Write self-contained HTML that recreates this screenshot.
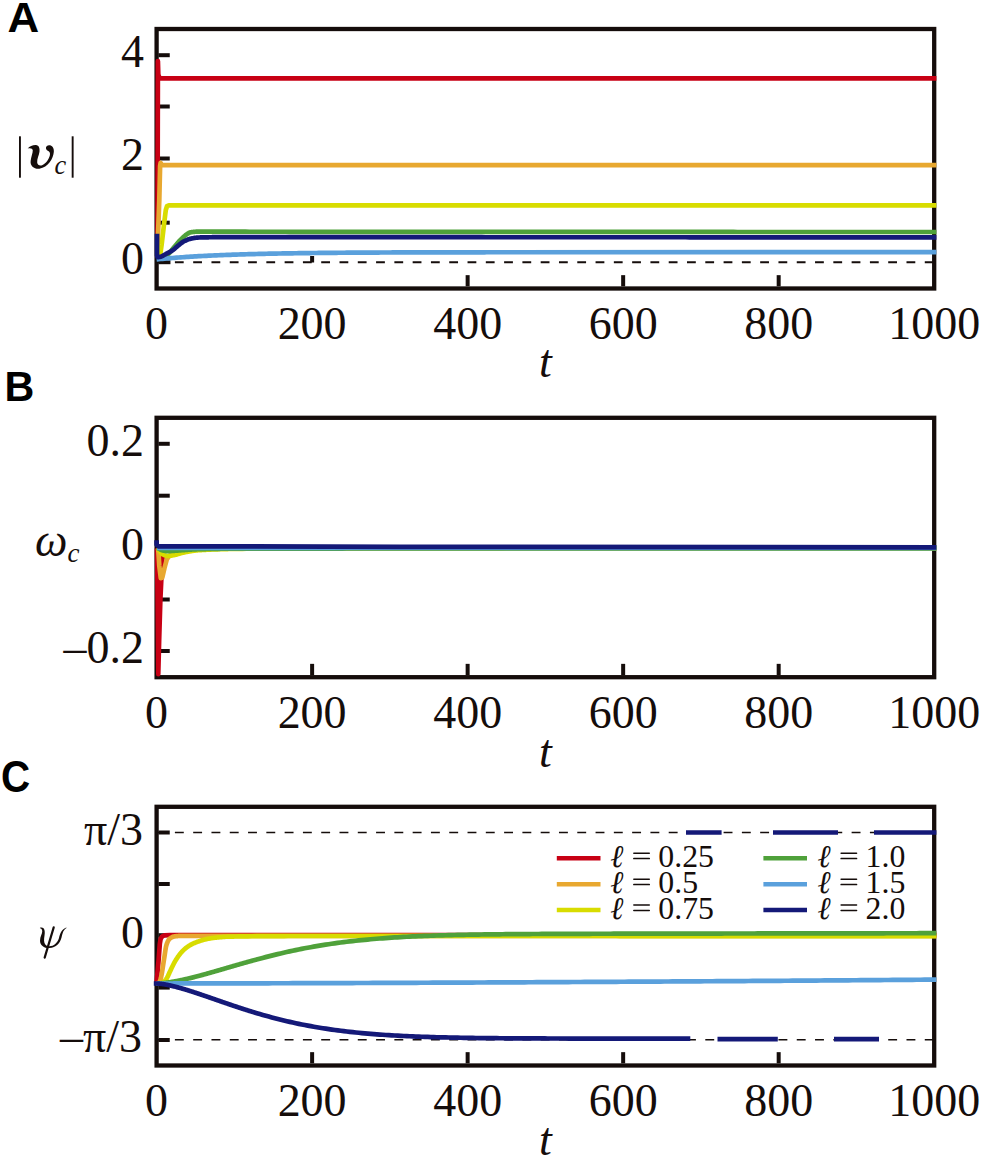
<!DOCTYPE html>
<html><head><meta charset="utf-8"><title>Figure</title>
<style>html,body{margin:0;padding:0;background:#fff;}body{width:982px;height:1158px;overflow:hidden;}svg{display:block;}</style>
</head><body>
<svg width="982" height="1158" viewBox="0 0 982 1158">
<rect width="982" height="1158" fill="#fff"/>
<line x1="156.6" y1="262.3" x2="934.2" y2="262.3" stroke="#150d0b" stroke-width="2.0" stroke-dasharray="8.8 9.49"/>
<rect x="156.6" y="29" width="777.6" height="259.5" fill="none" stroke="#150d0b" stroke-width="4.3"/>
<line x1="158.45" y1="55.2" x2="169.75" y2="55.2" stroke="#150d0b" stroke-width="4.0" />
<line x1="158.45" y1="106.5" x2="169.75" y2="106.5" stroke="#150d0b" stroke-width="4.0" />
<line x1="158.45" y1="158.5" x2="169.75" y2="158.5" stroke="#150d0b" stroke-width="4.0" />
<line x1="158.45" y1="222.7" x2="169.75" y2="222.7" stroke="#150d0b" stroke-width="4.0" />
<line x1="158.45" y1="262.2" x2="170.45" y2="262.2" stroke="#150d0b" stroke-width="4.0" />
<line x1="312.12" y1="262.5" x2="312.12" y2="256" stroke="#150d0b" stroke-width="4.0" />
<line x1="467.64" y1="286.35" x2="467.64" y2="275.15" stroke="#150d0b" stroke-width="4.0" />
<line x1="623.16" y1="286.35" x2="623.16" y2="275.15" stroke="#150d0b" stroke-width="4.0" />
<line x1="778.68" y1="286.35" x2="778.68" y2="275.15" stroke="#150d0b" stroke-width="4.0" />
<path d="M157.4 257 L157.7 150 L157.9 61 L158.3 74.5 L159.2 77.4 L161 78.3 L936.4 78.3" fill="none" stroke="#c80014" stroke-width="4.7" stroke-linejoin="round" stroke-linecap="butt" />
<path d="M157.2 257 L159.3 200 L160.1 166 L160.6 162.8 L161.6 164.6 L163 165.2 L936.4 165.2" fill="none" stroke="#e8a830" stroke-width="4.7" stroke-linejoin="round" stroke-linecap="butt" />
<path d="M159.8 257.5 L161.6 245 L164.3 222 L165.8 210 L167 206.2 L168.8 205.4 L936.4 205.4" fill="none" stroke="#d8dc00" stroke-width="4.7" stroke-linejoin="round" stroke-linecap="butt" />
<path d="M157.5 258.5 L158 258.49 L158.5 258.44 L159 258.38 L159.5 258.29 L160 258.18 L160.5 258.04 L161 257.89 L161.5 257.72 L162 257.53 L162.5 257.33 L163 257.12 L163.5 256.89 L164 256.66 L164.5 256.42 L165 256.17 L165.5 255.91 L166 255.66 L166.5 255.39 L167 255.08 L167.5 254.71 L168 254.29 L168.5 253.83 L169 253.33 L169.5 252.79 L170 252.23 L170.5 251.64 L171 251.04 L171.5 250.42 L172 249.8 L172.5 249.18 L173 248.56 L173.5 247.95 L174 247.36 L174.5 246.79 L175 246.2 L175.5 245.6 L176 244.99 L176.5 244.37 L177 243.75 L177.5 243.15 L178 242.56 L178.5 242 L179 241.46 L179.5 240.94 L180 240.42 L180.5 239.92 L181 239.43 L181.5 238.94 L182 238.46 L182.5 237.99 L183 237.52 L183.5 237.04 L184 236.56 L184.5 236.09 L185 235.63 L185.5 235.19 L186 234.79 L186.5 234.43 L187 234.11 L187.5 233.79 L188 233.47 L188.5 233.17 L189 232.9 L189.5 232.66 L190 232.47 L190.5 232.34 L191 232.25 L191.5 232.18 L192 232.11 L192.5 232.04 L193 231.98 L193.5 231.92 L194 231.86 L194.5 231.81 L195 231.77 L195.5 231.73 L196 231.7 L196.5 231.67 L197 231.64 L197.5 231.62 L198 231.61 L198.5 231.6 L199 231.6 L199.5 231.6 L200 231.6 L200.5 231.6 L201 231.6 L201.5 231.6 L202 231.6 L202.5 231.6 L203 231.6 L203.5 231.6 L204 231.61 L204.5 231.61 L205 231.61 L205.5 231.61 L206 231.61 L206.5 231.61 L207 231.61 L207.5 231.62 L208 231.62 L208.5 231.62 L209 231.62 L209.5 231.62 L210 231.63 L210.5 231.63 L211 231.63 L211.5 231.63 L212 231.63 L212.5 231.64 L213 231.64 L213.5 231.64 L214 231.64 L214.5 231.64 L215 231.65 L215.5 231.65 L216 231.65 L216.5 231.65 L217 231.66 L217.5 231.66 L218 231.66 L218.5 231.66 L219 231.66 L219.5 231.67 L220 231.67 L220.5 231.67 L221 231.67 L221.5 231.67 L222 231.68 L222.5 231.68 L223 231.68 L223.5 231.68 L224 231.68 L224.5 231.69 L225 231.69 L225.5 231.69 L226 231.69 L226.5 231.69 L227 231.69 L227.5 231.69 L228 231.7 L228.5 231.7 L229 231.7 L229.5 231.7 L230 231.7 L230.5 231.7 L231 231.7 L231.5 231.7 L232 231.7 L232.5 231.7 L233 231.7 L233.5 231.71 L234 231.71 L234.5 231.71 L235 231.71 L235.5 231.71 L236 231.71 L236.5 231.71 L237 231.71 L237.5 231.71 L241.5 231.72 L245.5 231.72 L249.5 231.73 L253.5 231.73 L257.5 231.74 L261.5 231.74 L265.5 231.75 L269.5 231.75 L273.5 231.76 L277.5 231.76 L281.5 231.77 L285.5 231.77 L289.5 231.78 L293.5 231.78 L297.5 231.78 L301.5 231.79 L305.5 231.79 L309.5 231.79 L313.5 231.8 L317.5 231.8 L321.5 231.8 L325.5 231.81 L329.5 231.81 L333.5 231.81 L337.5 231.82 L341.5 231.82 L345.5 231.82 L349.5 231.82 L353.5 231.83 L357.5 231.83 L361.5 231.83 L365.5 231.83 L369.5 231.83 L373.5 231.84 L377.5 231.84 L381.5 231.84 L385.5 231.84 L389.5 231.85 L393.5 231.85 L397.5 231.85 L401.5 231.85 L405.5 231.85 L409.5 231.85 L413.5 231.86 L417.5 231.86 L421.5 231.86 L425.5 231.86 L429.5 231.86 L433.5 231.87 L437.5 231.87 L441.5 231.87 L445.5 231.87 L449.5 231.87 L453.5 231.87 L457.5 231.88 L461.5 231.88 L465.5 231.88 L469.5 231.88 L473.5 231.88 L477.5 231.88 L481.5 231.89 L485.5 231.89 L489.5 231.89 L493.5 231.89 L497.5 231.89 L501.5 231.9 L505.5 231.9 L509.5 231.9 L513.5 231.9 L517.5 231.9 L521.5 231.9 L525.5 231.91 L529.5 231.91 L533.5 231.91 L537.5 231.91 L541.5 231.91 L545.5 231.91 L549.5 231.91 L553.5 231.92 L557.5 231.92 L561.5 231.92 L565.5 231.92 L569.5 231.92 L573.5 231.92 L577.5 231.93 L581.5 231.93 L585.5 231.93 L589.5 231.93 L593.5 231.93 L597.5 231.93 L601.5 231.93 L605.5 231.94 L609.5 231.94 L613.5 231.94 L617.5 231.94 L621.5 231.94 L625.5 231.94 L629.5 231.94 L633.5 231.95 L637.5 231.95 L641.5 231.95 L645.5 231.95 L649.5 231.95 L653.5 231.95 L657.5 231.95 L661.5 231.95 L665.5 231.96 L669.5 231.96 L673.5 231.96 L677.5 231.96 L681.5 231.96 L685.5 231.96 L689.5 231.96 L693.5 231.96 L697.5 231.96 L701.5 231.97 L705.5 231.97 L709.5 231.97 L713.5 231.97 L717.5 231.97 L721.5 231.97 L725.5 231.97 L729.5 231.97 L733.5 231.97 L737.5 231.98 L741.5 231.98 L745.5 231.98 L749.5 231.98 L753.5 231.98 L757.5 231.98 L761.5 231.98 L765.5 231.98 L769.5 231.98 L773.5 231.98 L777.5 231.98 L781.5 231.98 L785.5 231.99 L789.5 231.99 L793.5 231.99 L797.5 231.99 L801.5 231.99 L805.5 231.99 L809.5 231.99 L813.5 231.99 L817.5 231.99 L821.5 231.99 L825.5 231.99 L829.5 231.99 L833.5 231.99 L837.5 231.99 L841.5 231.99 L845.5 231.99 L849.5 231.99 L853.5 232 L857.5 232 L861.5 232 L865.5 232 L869.5 232 L873.5 232 L877.5 232 L881.5 232 L885.5 232 L889.5 232 L893.5 232 L897.5 232 L901.5 232 L905.5 232 L909.5 232 L913.5 232 L917.5 232 L921.5 232 L925.5 232 L929.5 232 L933.5 232 L936.4 232" fill="none" stroke="#4fa13a" stroke-width="4.7" stroke-linejoin="round" stroke-linecap="butt" />
<path d="M156.6 259.4 L158.6 259.2 L160.6 259.01 L162.6 258.82 L164.6 258.64 L166.6 258.47 L168.6 258.29 L170.6 258.13 L172.6 257.97 L174.6 257.81 L176.6 257.65 L178.6 257.5 L180.6 257.36 L182.6 257.22 L184.6 257.08 L186.6 256.95 L188.6 256.82 L190.6 256.69 L192.6 256.57 L194.6 256.45 L196.6 256.33 L198.6 256.22 L200.6 256.11 L202.6 256 L204.6 255.9 L206.6 255.8 L208.6 255.7 L210.6 255.6 L212.6 255.51 L214.6 255.42 L216.6 255.33 L218.6 255.24 L220.6 255.16 L222.6 255.08 L224.6 255 L226.6 254.92 L228.6 254.85 L230.6 254.78 L232.6 254.71 L234.6 254.64 L236.6 254.57 L238.6 254.51 L240.6 254.44 L242.6 254.38 L244.6 254.32 L246.6 254.26 L248.6 254.21 L250.6 254.15 L252.6 254.1 L254.6 254.05 L256.6 254 L258.6 253.95 L260.6 253.9 L262.6 253.85 L264.6 253.81 L266.6 253.76 L268.6 253.72 L270.6 253.68 L272.6 253.64 L274.6 253.6 L276.6 253.56 L278.6 253.52 L280.6 253.49 L282.6 253.45 L284.6 253.42 L286.6 253.38 L288.6 253.35 L290.6 253.32 L292.6 253.29 L294.6 253.26 L296.6 253.23 L298.6 253.2 L300.6 253.17 L302.6 253.15 L304.6 253.12 L306.6 253.1 L308.6 253.07 L310.6 253.05 L312.6 253.02 L314.6 253 L316.6 252.98 L318.6 252.96 L320.6 252.94 L322.6 252.92 L324.6 252.9 L326.6 252.88 L328.6 252.86 L330.6 252.84 L332.6 252.82 L334.6 252.81 L336.6 252.79 L338.6 252.77 L340.6 252.76 L342.6 252.74 L344.6 252.73 L346.6 252.71 L348.6 252.7 L350.6 252.69 L352.6 252.67 L354.6 252.66 L356.6 252.65 L358.6 252.64 L360.6 252.62 L362.6 252.61 L364.6 252.6 L366.6 252.59 L368.6 252.58 L370.6 252.57 L372.6 252.56 L374.6 252.55 L376.6 252.54 L378.6 252.53 L380.6 252.52 L382.6 252.51 L384.6 252.5 L386.6 252.5 L388.6 252.49 L390.6 252.48 L392.6 252.47 L394.6 252.46 L396.6 252.46 L398.6 252.45 L400.6 252.44 L402.6 252.44 L404.6 252.43 L406.6 252.42 L408.6 252.42 L410.6 252.41 L412.6 252.41 L414.6 252.4 L416.6 252.39 L418.6 252.39 L420.6 252.38 L422.6 252.38 L424.6 252.37 L426.6 252.37 L428.6 252.36 L430.6 252.36 L432.6 252.36 L434.6 252.35 L436.6 252.35 L438.6 252.34 L440.6 252.34 L442.6 252.34 L444.6 252.33 L446.6 252.33 L448.6 252.32 L450.6 252.32 L452.6 252.32 L454.6 252.31 L456.6 252.31 L458.6 252.31 L460.6 252.31 L462.6 252.3 L464.6 252.3 L466.6 252.3 L468.6 252.29 L470.6 252.29 L472.6 252.29 L474.6 252.29 L476.6 252.28 L478.6 252.28 L480.6 252.28 L482.6 252.28 L484.6 252.28 L486.6 252.27 L488.6 252.27 L490.6 252.27 L492.6 252.27 L494.6 252.27 L496.6 252.26 L498.6 252.26 L936.4 252.2" fill="none" stroke="#5aa0dc" stroke-width="4.7" stroke-linejoin="round" stroke-linecap="butt" />
<path d="M157 233.8 L157 255.5 L157.6 257.2 L158.1 257.16 L158.6 257.1 L159.1 257.03 L159.6 256.94 L160.1 256.83 L160.6 256.7 L161.1 256.52 L161.6 256.32 L162.1 256.1 L162.6 255.85 L163.1 255.59 L163.6 255.31 L164.1 255.03 L164.6 254.74 L165.1 254.46 L165.6 254.18 L166.1 253.9 L166.6 253.64 L167.1 253.39 L167.6 253.13 L168.1 252.86 L168.6 252.6 L169.1 252.33 L169.6 252.05 L170.1 251.77 L170.6 251.49 L171.1 251.19 L171.6 250.88 L172.1 250.56 L172.6 250.24 L173.1 249.89 L173.6 249.51 L174.1 249.11 L174.6 248.69 L175.1 248.26 L175.6 247.81 L176.1 247.36 L176.6 246.91 L177.1 246.47 L177.6 246.03 L178.1 245.62 L178.6 245.22 L179.1 244.83 L179.6 244.43 L180.1 244.03 L180.6 243.64 L181.1 243.25 L181.6 242.87 L182.1 242.5 L182.6 242.15 L183.1 241.83 L183.6 241.53 L184.1 241.25 L184.6 241 L185.1 240.76 L185.6 240.52 L186.1 240.29 L186.6 240.07 L187.1 239.86 L187.6 239.66 L188.1 239.47 L188.6 239.29 L189.1 239.13 L189.6 238.98 L190.1 238.84 L190.6 238.72 L191.1 238.61 L191.6 238.51 L192.1 238.4 L192.6 238.3 L193.1 238.21 L193.6 238.11 L194.1 238.02 L194.6 237.94 L195.1 237.86 L195.6 237.79 L196.1 237.72 L196.6 237.66 L197.1 237.61 L197.6 237.57 L198.1 237.54 L198.6 237.51 L199.1 237.49 L199.6 237.48 L200.1 237.47 L200.6 237.45 L201.1 237.44 L201.6 237.43 L202.1 237.42 L202.6 237.4 L203.1 237.39 L203.6 237.38 L204.1 237.37 L204.6 237.36 L205.1 237.35 L205.6 237.34 L206.1 237.33 L206.6 237.32 L207.1 237.31 L207.6 237.3 L208.1 237.29 L208.6 237.28 L209.1 237.27 L209.6 237.26 L210.1 237.25 L210.6 237.24 L211.1 237.24 L211.6 237.23 L212.1 237.22 L212.6 237.21 L213.1 237.21 L213.6 237.2 L214.1 237.19 L214.6 237.19 L215.1 237.18 L215.6 237.18 L216.1 237.17 L216.6 237.17 L217.1 237.16 L217.6 237.16 L218.1 237.15 L218.6 237.15 L219.1 237.14 L219.6 237.14 L220.1 237.14 L220.6 237.13 L221.1 237.13 L221.6 237.13 L222.1 237.12 L222.6 237.12 L223.1 237.12 L223.6 237.11 L224.1 237.11 L224.6 237.11 L225.1 237.11 L225.6 237.11 L226.1 237.11 L226.6 237.1 L227.1 237.1 L227.6 237.1 L228.1 237.1 L228.6 237.1 L229.1 237.1 L229.6 237.1 L230.1 237.1 L230.6 237.1 L231.1 237.1 L231.6 237.1 L232.1 237.1 L232.6 237.1 L233.1 237.1 L233.6 237.1 L234.1 237.1 L234.6 237.1 L235.1 237.1 L235.6 237.1 L236.1 237.1 L236.6 237.1 L237.1 237.1 L237.6 237.1 L241.6 237.1 L245.6 237.1 L249.6 237.1 L253.6 237.1 L257.6 237.11 L261.6 237.11 L265.6 237.11 L269.6 237.11 L273.6 237.11 L277.6 237.12 L281.6 237.12 L285.6 237.12 L289.6 237.12 L293.6 237.13 L297.6 237.13 L301.6 237.13 L305.6 237.14 L309.6 237.14 L313.6 237.14 L317.6 237.15 L321.6 237.15 L325.6 237.15 L329.6 237.16 L333.6 237.16 L337.6 237.16 L341.6 237.16 L345.6 237.17 L349.6 237.17 L353.6 237.17 L357.6 237.18 L361.6 237.18 L365.6 237.18 L369.6 237.19 L373.6 237.19 L377.6 237.19 L381.6 237.19 L385.6 237.19 L389.6 237.2 L393.6 237.2 L397.6 237.2 L401.6 237.2 L405.6 237.2 L409.6 237.2 L413.6 237.2 L417.6 237.21 L421.6 237.21 L425.6 237.21 L429.6 237.21 L433.6 237.21 L437.6 237.21 L441.6 237.21 L445.6 237.21 L449.6 237.22 L453.6 237.22 L457.6 237.22 L461.6 237.22 L465.6 237.22 L469.6 237.22 L473.6 237.22 L477.6 237.22 L481.6 237.22 L485.6 237.23 L489.6 237.23 L493.6 237.23 L497.6 237.23 L501.6 237.23 L505.6 237.23 L509.6 237.23 L513.6 237.23 L517.6 237.23 L521.6 237.24 L525.6 237.24 L529.6 237.24 L533.6 237.24 L537.6 237.24 L541.6 237.24 L545.6 237.24 L549.6 237.24 L553.6 237.24 L557.6 237.25 L561.6 237.25 L565.6 237.25 L569.6 237.25 L573.6 237.25 L577.6 237.25 L581.6 237.25 L585.6 237.25 L589.6 237.25 L593.6 237.25 L597.6 237.26 L601.6 237.26 L605.6 237.26 L609.6 237.26 L613.6 237.26 L617.6 237.26 L621.6 237.26 L625.6 237.26 L629.6 237.26 L633.6 237.26 L637.6 237.26 L641.6 237.27 L645.6 237.27 L649.6 237.27 L653.6 237.27 L657.6 237.27 L661.6 237.27 L665.6 237.27 L669.6 237.27 L673.6 237.27 L677.6 237.27 L681.6 237.27 L685.6 237.27 L689.6 237.28 L693.6 237.28 L697.6 237.28 L701.6 237.28 L705.6 237.28 L709.6 237.28 L713.6 237.28 L717.6 237.28 L721.6 237.28 L725.6 237.28 L729.6 237.28 L733.6 237.28 L737.6 237.28 L741.6 237.28 L745.6 237.28 L749.6 237.29 L753.6 237.29 L757.6 237.29 L761.6 237.29 L765.6 237.29 L769.6 237.29 L773.6 237.29 L777.6 237.29 L781.6 237.29 L785.6 237.29 L789.6 237.29 L793.6 237.29 L797.6 237.29 L801.6 237.29 L805.6 237.29 L809.6 237.29 L813.6 237.29 L817.6 237.29 L821.6 237.29 L825.6 237.29 L829.6 237.29 L833.6 237.3 L837.6 237.3 L841.6 237.3 L845.6 237.3 L849.6 237.3 L853.6 237.3 L857.6 237.3 L861.6 237.3 L865.6 237.3 L869.6 237.3 L873.6 237.3 L877.6 237.3 L881.6 237.3 L885.6 237.3 L889.6 237.3 L893.6 237.3 L897.6 237.3 L901.6 237.3 L905.6 237.3 L909.6 237.3 L913.6 237.3 L917.6 237.3 L921.6 237.3 L925.6 237.3 L929.6 237.3 L933.6 237.3 L936.4 237.3" fill="none" stroke="#141978" stroke-width="4.7" stroke-linejoin="round" stroke-linecap="butt" />
<text transform="translate(144 66.8) scale(1 1.03)" font-family="Liberation Serif" font-size="46" text-anchor="end" fill="#150d0b" >4</text>
<text transform="translate(144 170.3) scale(1 1.03)" font-family="Liberation Serif" font-size="46" text-anchor="end" fill="#150d0b" >2</text>
<text transform="translate(144 274) scale(1 1.03)" font-family="Liberation Serif" font-size="46" text-anchor="end" fill="#150d0b" >0</text>
<text transform="translate(156.6 339.3) scale(1 1.03)" font-family="Liberation Serif" font-size="46" text-anchor="middle" fill="#150d0b" >0</text>
<text transform="translate(312.12 339.3) scale(1 1.03)" font-family="Liberation Serif" font-size="46" text-anchor="middle" fill="#150d0b" >200</text>
<text transform="translate(467.64 339.3) scale(1 1.03)" font-family="Liberation Serif" font-size="46" text-anchor="middle" fill="#150d0b" >400</text>
<text transform="translate(623.16 339.3) scale(1 1.03)" font-family="Liberation Serif" font-size="46" text-anchor="middle" fill="#150d0b" >600</text>
<text transform="translate(778.68 339.3) scale(1 1.03)" font-family="Liberation Serif" font-size="46" text-anchor="middle" fill="#150d0b" >800</text>
<text transform="translate(934.2 339.3) scale(1 1.03)" font-family="Liberation Serif" font-size="46" text-anchor="middle" fill="#150d0b" >1000</text>
<text transform="translate(545.5 377.1) scale(1 1.03)" font-family="Liberation Serif" font-size="46" text-anchor="middle" fill="#150d0b" font-style="italic">t</text>
<rect x="156.6" y="417.8" width="777.6" height="259.4" fill="none" stroke="#150d0b" stroke-width="4.3"/>
<line x1="158.45" y1="443.8" x2="169.75" y2="443.8" stroke="#150d0b" stroke-width="4.0" />
<line x1="158.45" y1="495.7" x2="169.75" y2="495.7" stroke="#150d0b" stroke-width="4.0" />
<line x1="158.45" y1="599.5" x2="169.75" y2="599.5" stroke="#150d0b" stroke-width="4.0" />
<line x1="158.45" y1="651" x2="169.75" y2="651" stroke="#150d0b" stroke-width="4.0" />
<line x1="312.12" y1="675.05" x2="312.12" y2="663.85" stroke="#150d0b" stroke-width="4.0" />
<line x1="467.64" y1="675.05" x2="467.64" y2="663.85" stroke="#150d0b" stroke-width="4.0" />
<line x1="623.16" y1="675.05" x2="623.16" y2="663.85" stroke="#150d0b" stroke-width="4.0" />
<line x1="778.68" y1="675.05" x2="778.68" y2="663.85" stroke="#150d0b" stroke-width="4.0" />
<path d="M157 548.5 L157.6 600 L158.3 674.2 L159.2 640 L160.4 600 L162.3 560 L163.2 550 L164 548.3" fill="none" stroke="#c80014" stroke-width="4.6" stroke-linejoin="round" stroke-linecap="butt" stroke-linecap="round"/>
<path d="M158.2 548.5 L159.3 566 L160.8 578.2 L162.3 577.5 L164.5 568 L166.8 559.5 L169.5 555.5 L172 554.3 L172.5 554.2 L173 554.1 L173.5 554 L174 553.89 L174.5 553.78 L175 553.66 L175.5 553.53 L176 553.4 L176.5 553.26 L177 553.12 L177.5 552.97 L178 552.83 L178.5 552.68 L179 552.53 L179.5 552.38 L180 552.23 L180.5 552.09 L181 551.94 L181.5 551.8 L182 551.66 L182.5 551.53 L183 551.39 L183.5 551.25 L184 551.1 L184.5 550.95 L185 550.8 L185.5 550.65 L186 550.5 L186.5 550.35 L187 550.21 L187.5 550.07 L188 549.95 L188.5 549.83 L189 549.73 L189.5 549.64 L190 549.57 L190.5 549.52 L191 549.48 L191.5 549.44 L192 549.41 L192.5 549.38 L193 549.34 L193.5 549.31 L194 549.28 L194.5 549.25 L195 549.22 L195.5 549.19 L196 549.16 L196.5 549.13 L197 549.1 L197.5 549.07 L198 549.04 L198.5 549.02 L199 548.99 L199.5 548.96 L200 548.94 L200.5 548.91 L201 548.89 L201.5 548.86 L202 548.84 L202.5 548.82 L203 548.79 L203.5 548.77 L204 548.75 L204.5 548.73 L205 548.71 L205.5 548.69 L206 548.67 L206.5 548.65 L207 548.63 L207.5 548.61 L208 548.59 L208.5 548.58 L209 548.56 L209.5 548.54 L210 548.52 L210.5 548.51 L211 548.49 L211.5 548.48 L212 548.46 L212.5 548.45 L213 548.44 L213.5 548.42 L214 548.41 L214.5 548.4 L215 548.38 L215.5 548.37 L216 548.36 L216.5 548.35 L217 548.34 L217.5 548.33 L218 548.32 L218.5 548.31 L219 548.3 L219.5 548.29 L220 548.29 L220.5 548.28 L221 548.27 L221.5 548.26 L222 548.26 L222.5 548.25 L223 548.24 L223.5 548.24 L224 548.23 L224.5 548.23 L225 548.22 L225.5 548.22 L226 548.22 L226.5 548.21 L227 548.21 L227.5 548.21 L228 548.21 L228.5 548.2 L229 548.2 L229.5 548.2 L230 548.2 L230.5 548.2 L231 548.2 L231.5 548.2 L232 548.2 L232.5 548.2 L233 548.2 L233.5 548.19 L234 548.19 L234.5 548.19 L235 548.19 L235.5 548.19 L236 548.19 L236.5 548.19 L237 548.19 L237.5 548.19 L238 548.19 L238.5 548.19 L239 548.19 L239.5 548.19 L240 548.18 L240.5 548.18 L241 548.18 L241.5 548.18 L242 548.18 L242.5 548.18 L243 548.18 L243.5 548.18 L244 548.18 L244.5 548.18 L245 548.18 L245.5 548.18 L246 548.18 L246.5 548.17 L247 548.17 L247.5 548.17 L248 548.17 L248.5 548.17 L249 548.17 L249.5 548.17 L250 548.17 L250.5 548.17 L251 548.17 L251.5 548.17 L252 548.17 L256 548.16 L260 548.15 L264 548.15 L268 548.14 L272 548.14 L276 548.13 L280 548.13 L284 548.12 L288 548.12 L292 548.11 L296 548.11 L300 548.1 L304 548.09 L308 548.09 L312 548.08 L316 548.08 L320 548.07 L324 548.07 L328 548.07 L332 548.06 L336 548.06 L340 548.05 L344 548.05 L348 548.04 L352 548.04 L356 548.03 L360 548.03 L364 548.02 L368 548.02 L372 548.02 L376 548.01 L380 548.01 L384 548 L388 548 L392 548 L396 547.99 L400 547.99 L404 547.98 L408 547.98 L412 547.98 L416 547.97 L420 547.97 L424 547.97 L428 547.96 L432 547.96 L436 547.96 L440 547.95 L444 547.95 L448 547.95 L452 547.94 L456 547.94 L460 547.94 L464 547.93 L468 547.93 L472 547.93 L476 547.92 L480 547.92 L484 547.92 L488 547.92 L492 547.91 L496 547.91 L500 547.91 L504 547.91 L508 547.9 L512 547.9 L516 547.9 L520 547.9 L524 547.89 L528 547.89 L532 547.89 L536 547.89 L540 547.88 L544 547.88 L548 547.88 L552 547.88 L556 547.88 L560 547.87 L564 547.87 L568 547.87 L572 547.87 L576 547.87 L580 547.86 L584 547.86 L588 547.86 L592 547.86 L596 547.86 L600 547.85 L604 547.85 L608 547.85 L612 547.85 L616 547.85 L620 547.85 L624 547.84 L628 547.84 L632 547.84 L636 547.84 L640 547.84 L644 547.84 L648 547.84 L652 547.84 L656 547.83 L660 547.83 L664 547.83 L668 547.83 L672 547.83 L676 547.83 L680 547.83 L684 547.83 L688 547.83 L692 547.82 L696 547.82 L700 547.82 L704 547.82 L708 547.82 L712 547.82 L716 547.82 L720 547.82 L724 547.82 L728 547.82 L732 547.82 L736 547.81 L740 547.81 L744 547.81 L748 547.81 L752 547.81 L756 547.81 L760 547.81 L764 547.81 L768 547.81 L772 547.81 L776 547.81 L780 547.81 L784 547.81 L788 547.81 L792 547.81 L796 547.81 L800 547.81 L804 547.81 L808 547.8 L812 547.8 L816 547.8 L820 547.8 L824 547.8 L828 547.8 L832 547.8 L836 547.8 L840 547.8 L844 547.8 L848 547.8 L852 547.8 L856 547.8 L860 547.8 L864 547.8 L868 547.8 L872 547.8 L876 547.8 L880 547.8 L884 547.8 L888 547.8 L892 547.8 L896 547.8 L900 547.8 L904 547.8 L908 547.8 L912 547.8 L916 547.8 L920 547.8 L924 547.8 L928 547.8 L932 547.8 L936 547.8 L936.4 547.8" fill="none" stroke="#e8a830" stroke-width="4.7" stroke-linejoin="round" stroke-linecap="butt" />
<path d="M157 548 L158.5 549 L159 549.82 L159.5 550.61 L160 551.37 L160.5 552.08 L161 552.73 L161.5 553.3 L162 553.8 L162.5 554.2 L163 554.5 L163.5 554.74 L164 554.97 L164.5 555.18 L165 555.38 L165.5 555.55 L166 555.71 L166.5 555.83 L167 555.92 L167.5 555.98 L168 556 L168.5 555.99 L169 555.96 L169.5 555.91 L170 555.85 L170.5 555.78 L171 555.69 L171.5 555.6 L172 555.5 L172.5 555.4 L173 555.29 L173.5 555.18 L174 555.08 L174.5 554.98 L175 554.87 L175.5 554.76 L176 554.64 L176.5 554.5 L177 554.37 L177.5 554.23 L178 554.08 L178.5 553.93 L179 553.78 L179.5 553.64 L180 553.49 L180.5 553.35 L181 553.21 L181.5 553.07 L182 552.94 L182.5 552.82 L183 552.71 L183.5 552.6 L184 552.49 L184.5 552.38 L185 552.27 L185.5 552.16 L186 552.06 L186.5 551.95 L187 551.85 L187.5 551.75 L188 551.66 L188.5 551.57 L189 551.48 L189.5 551.39 L190 551.31 L190.5 551.23 L191 551.15 L191.5 551.08 L192 551 L192.5 550.93 L193 550.86 L193.5 550.79 L194 550.72 L194.5 550.65 L195 550.59 L195.5 550.52 L196 550.47 L196.5 550.41 L197 550.36 L197.5 550.31 L198 550.27 L198.5 550.23 L199 550.19 L199.5 550.16 L200 550.13 L200.5 550.1 L201 550.07 L201.5 550.04 L202 550.01 L202.5 549.98 L203 549.95 L203.5 549.92 L204 549.89 L204.5 549.86 L205 549.84 L205.5 549.81 L206 549.78 L206.5 549.76 L207 549.73 L207.5 549.71 L208 549.68 L208.5 549.66 L209 549.64 L209.5 549.61 L210 549.59 L210.5 549.57 L211 549.55 L211.5 549.52 L212 549.5 L212.5 549.48 L213 549.46 L213.5 549.44 L214 549.42 L214.5 549.4 L215 549.39 L215.5 549.37 L216 549.35 L216.5 549.33 L217 549.31 L217.5 549.3 L218 549.28 L218.5 549.27 L219 549.25 L219.5 549.24 L220 549.22 L220.5 549.21 L221 549.19 L221.5 549.18 L222 549.17 L222.5 549.15 L223 549.14 L223.5 549.13 L224 549.12 L224.5 549.1 L225 549.09 L225.5 549.08 L226 549.07 L226.5 549.06 L227 549.05 L227.5 549.04 L228 549.03 L228.5 549.02 L229 549.02 L229.5 549.01 L230 549 L230.5 548.99 L231 548.98 L231.5 548.98 L232 548.97 L232.5 548.96 L233 548.95 L233.5 548.95 L234 548.94 L234.5 548.93 L235 548.93 L235.5 548.92 L236 548.91 L236.5 548.9 L237 548.9 L237.5 548.89 L238 548.88 L238.5 548.88 L242.5 548.82 L246.5 548.77 L250.5 548.72 L254.5 548.68 L258.5 548.64 L262.5 548.6 L266.5 548.56 L270.5 548.53 L274.5 548.5 L278.5 548.47 L282.5 548.45 L286.5 548.43 L290.5 548.42 L294.5 548.41 L298.5 548.4 L302.5 548.4 L306.5 548.39 L310.5 548.39 L314.5 548.39 L318.5 548.39 L322.5 548.38 L326.5 548.38 L330.5 548.38 L334.5 548.37 L338.5 548.37 L342.5 548.37 L346.5 548.36 L350.5 548.36 L354.5 548.36 L358.5 548.36 L362.5 548.35 L366.5 548.35 L370.5 548.35 L374.5 548.35 L378.5 548.34 L382.5 548.34 L386.5 548.34 L390.5 548.34 L394.5 548.33 L398.5 548.33 L402.5 548.33 L406.5 548.33 L410.5 548.32 L414.5 548.32 L418.5 548.32 L422.5 548.32 L426.5 548.31 L430.5 548.31 L434.5 548.31 L438.5 548.31 L442.5 548.31 L446.5 548.3 L450.5 548.3 L454.5 548.3 L458.5 548.3 L462.5 548.29 L466.5 548.29 L470.5 548.29 L474.5 548.29 L478.5 548.29 L482.5 548.29 L486.5 548.28 L490.5 548.28 L494.5 548.28 L498.5 548.28 L502.5 548.28 L506.5 548.27 L510.5 548.27 L514.5 548.27 L518.5 548.27 L522.5 548.27 L526.5 548.27 L530.5 548.26 L534.5 548.26 L538.5 548.26 L542.5 548.26 L546.5 548.26 L550.5 548.26 L554.5 548.26 L558.5 548.25 L562.5 548.25 L566.5 548.25 L570.5 548.25 L574.5 548.25 L578.5 548.25 L582.5 548.25 L586.5 548.25 L590.5 548.24 L594.5 548.24 L598.5 548.24 L602.5 548.24 L606.5 548.24 L610.5 548.24 L614.5 548.24 L618.5 548.24 L622.5 548.23 L626.5 548.23 L630.5 548.23 L634.5 548.23 L638.5 548.23 L642.5 548.23 L646.5 548.23 L650.5 548.23 L654.5 548.23 L658.5 548.23 L662.5 548.23 L666.5 548.22 L670.5 548.22 L674.5 548.22 L678.5 548.22 L682.5 548.22 L686.5 548.22 L690.5 548.22 L694.5 548.22 L698.5 548.22 L702.5 548.22 L706.5 548.22 L710.5 548.22 L714.5 548.22 L718.5 548.21 L722.5 548.21 L726.5 548.21 L730.5 548.21 L734.5 548.21 L738.5 548.21 L742.5 548.21 L746.5 548.21 L750.5 548.21 L754.5 548.21 L758.5 548.21 L762.5 548.21 L766.5 548.21 L770.5 548.21 L774.5 548.21 L778.5 548.21 L782.5 548.21 L786.5 548.21 L790.5 548.21 L794.5 548.21 L798.5 548.21 L802.5 548.2 L806.5 548.2 L810.5 548.2 L814.5 548.2 L818.5 548.2 L822.5 548.2 L826.5 548.2 L830.5 548.2 L834.5 548.2 L838.5 548.2 L842.5 548.2 L846.5 548.2 L850.5 548.2 L854.5 548.2 L858.5 548.2 L862.5 548.2 L866.5 548.2 L870.5 548.2 L874.5 548.2 L878.5 548.2 L882.5 548.2 L886.5 548.2 L890.5 548.2 L894.5 548.2 L898.5 548.2 L902.5 548.2 L906.5 548.2 L910.5 548.2 L914.5 548.2 L918.5 548.2 L922.5 548.2 L926.5 548.2 L930.5 548.2 L934.5 548.2 L936.4 548.2" fill="none" stroke="#d8dc00" stroke-width="4.7" stroke-linejoin="round" stroke-linecap="butt" />
<path d="M157 548 L158.5 548.5 L159 548.79 L159.5 549.07 L160 549.34 L160.5 549.59 L161 549.82 L161.5 550.03 L162 550.22 L162.5 550.38 L163 550.5 L163.5 550.61 L164 550.71 L164.5 550.81 L165 550.9 L165.5 550.98 L166 551.06 L166.5 551.12 L167 551.16 L167.5 551.19 L168 551.2 L168.5 551.2 L169 551.18 L169.5 551.16 L170 551.14 L170.5 551.1 L171 551.07 L171.5 551.03 L172 550.99 L172.5 550.95 L173 550.91 L173.5 550.87 L174 550.83 L174.5 550.79 L175 550.76 L175.5 550.72 L176 550.69 L176.5 550.65 L177 550.62 L177.5 550.58 L178 550.54 L178.5 550.51 L179 550.47 L179.5 550.43 L180 550.39 L180.5 550.36 L181 550.32 L181.5 550.28 L182 550.24 L182.5 550.21 L183 550.17 L183.5 550.13 L184 550.09 L184.5 550.05 L185 550.02 L185.5 549.98 L186 549.94 L186.5 549.9 L187 549.86 L187.5 549.82 L188 549.78 L188.5 549.75 L189 549.71 L189.5 549.68 L190 549.64 L190.5 549.61 L191 549.58 L191.5 549.55 L192 549.52 L192.5 549.49 L193 549.47 L193.5 549.44 L194 549.41 L194.5 549.38 L195 549.36 L195.5 549.33 L196 549.31 L196.5 549.29 L197 549.26 L197.5 549.25 L198 549.23 L198.5 549.21 L199 549.2 L199.5 549.18 L200 549.17 L200.5 549.16 L201 549.14 L201.5 549.13 L202 549.12 L202.5 549.11 L203 549.09 L203.5 549.08 L204 549.07 L204.5 549.06 L205 549.05 L205.5 549.04 L206 549.02 L206.5 549.01 L207 549 L207.5 548.99 L208 548.98 L208.5 548.97 L209 548.96 L209.5 548.95 L210 548.94 L210.5 548.93 L211 548.92 L211.5 548.91 L212 548.9 L212.5 548.89 L213 548.88 L213.5 548.87 L214 548.86 L214.5 548.86 L215 548.85 L215.5 548.84 L216 548.83 L216.5 548.82 L217 548.82 L217.5 548.81 L218 548.8 L218.5 548.8 L219 548.79 L219.5 548.78 L220 548.78 L220.5 548.77 L221 548.76 L221.5 548.76 L222 548.75 L222.5 548.75 L223 548.74 L223.5 548.74 L224 548.73 L224.5 548.73 L225 548.73 L225.5 548.72 L226 548.72 L226.5 548.72 L227 548.71 L227.5 548.71 L228 548.71 L228.5 548.71 L229 548.7 L229.5 548.7 L230 548.7 L230.5 548.7 L231 548.7 L231.5 548.7 L232 548.69 L232.5 548.69 L233 548.69 L233.5 548.69 L234 548.69 L234.5 548.69 L235 548.69 L235.5 548.69 L236 548.68 L236.5 548.68 L237 548.68 L237.5 548.68 L238 548.68 L238.5 548.68 L242.5 548.67 L246.5 548.66 L250.5 548.65 L254.5 548.64 L258.5 548.63 L262.5 548.62 L266.5 548.62 L270.5 548.61 L274.5 548.6 L278.5 548.6 L282.5 548.59 L286.5 548.58 L290.5 548.58 L294.5 548.57 L298.5 548.57 L302.5 548.56 L306.5 548.56 L310.5 548.55 L314.5 548.55 L318.5 548.55 L322.5 548.54 L326.5 548.54 L330.5 548.54 L334.5 548.53 L338.5 548.53 L342.5 548.53 L346.5 548.52 L350.5 548.52 L354.5 548.52 L358.5 548.52 L362.5 548.52 L366.5 548.51 L370.5 548.51 L374.5 548.51 L378.5 548.51 L382.5 548.51 L386.5 548.51 L390.5 548.5 L394.5 548.5 L398.5 548.5 L402.5 548.5 L406.5 548.5 L410.5 548.5 L414.5 548.49 L418.5 548.49 L422.5 548.49 L426.5 548.49 L430.5 548.49 L434.5 548.49 L438.5 548.49 L442.5 548.48 L446.5 548.48 L450.5 548.48 L454.5 548.48 L458.5 548.48 L462.5 548.48 L466.5 548.48 L470.5 548.48 L474.5 548.47 L478.5 548.47 L482.5 548.47 L486.5 548.47 L490.5 548.47 L494.5 548.47 L498.5 548.47 L502.5 548.47 L506.5 548.46 L510.5 548.46 L514.5 548.46 L518.5 548.46 L522.5 548.46 L526.5 548.46 L530.5 548.46 L534.5 548.46 L538.5 548.46 L542.5 548.45 L546.5 548.45 L550.5 548.45 L554.5 548.45 L558.5 548.45 L562.5 548.45 L566.5 548.45 L570.5 548.45 L574.5 548.45 L578.5 548.44 L582.5 548.44 L586.5 548.44 L590.5 548.44 L594.5 548.44 L598.5 548.44 L602.5 548.44 L606.5 548.44 L610.5 548.44 L614.5 548.44 L618.5 548.44 L622.5 548.43 L626.5 548.43 L630.5 548.43 L634.5 548.43 L638.5 548.43 L642.5 548.43 L646.5 548.43 L650.5 548.43 L654.5 548.43 L658.5 548.43 L662.5 548.43 L666.5 548.43 L670.5 548.42 L674.5 548.42 L678.5 548.42 L682.5 548.42 L686.5 548.42 L690.5 548.42 L694.5 548.42 L698.5 548.42 L702.5 548.42 L706.5 548.42 L710.5 548.42 L714.5 548.42 L718.5 548.42 L722.5 548.42 L726.5 548.42 L730.5 548.41 L734.5 548.41 L738.5 548.41 L742.5 548.41 L746.5 548.41 L750.5 548.41 L754.5 548.41 L758.5 548.41 L762.5 548.41 L766.5 548.41 L770.5 548.41 L774.5 548.41 L778.5 548.41 L782.5 548.41 L786.5 548.41 L790.5 548.41 L794.5 548.41 L798.5 548.41 L802.5 548.41 L806.5 548.41 L810.5 548.41 L814.5 548.41 L818.5 548.4 L822.5 548.4 L826.5 548.4 L830.5 548.4 L834.5 548.4 L838.5 548.4 L842.5 548.4 L846.5 548.4 L850.5 548.4 L854.5 548.4 L858.5 548.4 L862.5 548.4 L866.5 548.4 L870.5 548.4 L874.5 548.4 L878.5 548.4 L882.5 548.4 L886.5 548.4 L890.5 548.4 L894.5 548.4 L898.5 548.4 L902.5 548.4 L906.5 548.4 L910.5 548.4 L914.5 548.4 L918.5 548.4 L922.5 548.4 L926.5 548.4 L930.5 548.4 L934.5 548.4 L936.4 548.4" fill="none" stroke="#4fa13a" stroke-width="4.7" stroke-linejoin="round" stroke-linecap="butt" />
<path d="M157 548 L157.5 548 L158 548 L158.5 548 L159 548 L159.5 548 L160 547.99 L160.5 547.99 L161 547.99 L161.5 547.99 L162 547.99 L162.5 547.99 L163 547.99 L163.5 547.99 L164 547.99 L164.5 547.99 L165 547.99 L165.5 547.99 L166 547.98 L166.5 547.98 L167 547.98 L167.5 547.98 L168 547.98 L168.5 547.98 L169 547.98 L169.5 547.98 L170 547.98 L170.5 547.98 L171 547.98 L171.5 547.97 L172 547.97 L172.5 547.97 L173 547.97 L173.5 547.97 L174 547.97 L174.5 547.97 L175 547.97 L175.5 547.97 L176 547.97 L176.5 547.97 L177 547.96 L177.5 547.96 L178 547.96 L178.5 547.96 L179 547.96 L179.5 547.96 L180 547.96 L180.5 547.96 L181 547.96 L181.5 547.96 L182 547.96 L182.5 547.95 L183 547.95 L183.5 547.95 L184 547.95 L184.5 547.95 L185 547.95 L185.5 547.95 L186 547.95 L186.5 547.95 L187 547.95 L187.5 547.95 L188 547.94 L188.5 547.94 L189 547.94 L189.5 547.94 L190 547.94 L190.5 547.94 L191 547.94 L191.5 547.94 L192 547.94 L192.5 547.94 L193 547.93 L193.5 547.93 L194 547.93 L194.5 547.93 L195 547.93 L195.5 547.93 L196 547.93 L196.5 547.93 L197 547.93 L197.5 547.93 L198 547.93 L198.5 547.92 L199 547.92 L199.5 547.92 L200 547.92 L200.5 547.92 L201 547.92 L201.5 547.92 L202 547.92 L202.5 547.92 L203 547.92 L203.5 547.92 L204 547.91 L204.5 547.91 L205 547.91 L205.5 547.91 L206 547.91 L206.5 547.91 L207 547.91 L207.5 547.91 L208 547.91 L208.5 547.91 L209 547.91 L209.5 547.9 L210 547.9 L210.5 547.9 L211 547.9 L211.5 547.9 L212 547.9 L212.5 547.9 L213 547.9 L213.5 547.9 L214 547.9 L214.5 547.89 L215 547.89 L215.5 547.89 L216 547.89 L216.5 547.89 L217 547.89 L217.5 547.89 L218 547.89 L218.5 547.89 L219 547.89 L219.5 547.89 L220 547.89 L220.5 547.88 L221 547.88 L221.5 547.88 L222 547.88 L222.5 547.88 L223 547.88 L223.5 547.88 L224 547.88 L224.5 547.88 L225 547.88 L225.5 547.88 L226 547.87 L226.5 547.87 L227 547.87 L227.5 547.87 L228 547.87 L228.5 547.87 L229 547.87 L229.5 547.87 L230 547.87 L230.5 547.87 L231 547.87 L231.5 547.87 L232 547.86 L232.5 547.86 L233 547.86 L233.5 547.86 L234 547.86 L234.5 547.86 L235 547.86 L235.5 547.86 L236 547.86 L236.5 547.86 L237 547.86 L241 547.85 L245 547.84 L249 547.84 L253 547.83 L257 547.83 L261 547.82 L265 547.82 L269 547.82 L273 547.81 L277 547.81 L281 547.81 L285 547.8 L289 547.8 L293 547.8 L297 547.8 L301 547.8 L305 547.8 L309 547.8 L313 547.8 L317 547.8 L321 547.8 L325 547.8 L329 547.8 L333 547.8 L337 547.8 L341 547.8 L345 547.8 L349 547.8 L353 547.8 L357 547.8 L361 547.8 L365 547.8 L369 547.8 L373 547.8 L377 547.8 L381 547.8 L385 547.8 L389 547.8 L393 547.8 L397 547.8 L401 547.8 L405 547.8 L409 547.8 L413 547.8 L417 547.8 L421 547.8 L425 547.8 L429 547.8 L433 547.8 L437 547.8 L441 547.8 L445 547.8 L449 547.8 L453 547.8 L457 547.8 L461 547.8 L465 547.8 L469 547.8 L473 547.8 L477 547.8 L481 547.8 L485 547.8 L489 547.8 L493 547.8 L497 547.8 L501 547.8 L505 547.8 L509 547.8 L513 547.8 L517 547.8 L521 547.8 L525 547.8 L529 547.8 L533 547.8 L537 547.8 L541 547.8 L545 547.8 L549 547.8 L553 547.8 L557 547.8 L561 547.8 L565 547.8 L569 547.8 L573 547.8 L577 547.8 L581 547.8 L585 547.8 L589 547.8 L593 547.8 L597 547.8 L601 547.8 L605 547.8 L609 547.8 L613 547.8 L617 547.8 L621 547.8 L625 547.8 L629 547.8 L633 547.8 L637 547.8 L641 547.8 L645 547.8 L649 547.8 L653 547.8 L657 547.8 L661 547.8 L665 547.8 L669 547.8 L673 547.8 L677 547.8 L681 547.8 L685 547.8 L689 547.8 L693 547.8 L697 547.8 L701 547.8 L705 547.8 L709 547.8 L713 547.8 L717 547.8 L721 547.8 L725 547.8 L729 547.8 L733 547.8 L737 547.8 L741 547.8 L745 547.8 L749 547.8 L753 547.8 L757 547.8 L761 547.8 L765 547.8 L769 547.8 L773 547.8 L777 547.8 L781 547.8 L785 547.8 L789 547.8 L793 547.8 L797 547.8 L801 547.8 L805 547.8 L809 547.8 L813 547.8 L817 547.8 L821 547.8 L825 547.8 L829 547.8 L833 547.8 L837 547.8 L841 547.8 L845 547.8 L849 547.8 L853 547.8 L857 547.8 L861 547.8 L865 547.8 L869 547.8 L873 547.8 L877 547.8 L881 547.8 L885 547.8 L889 547.8 L893 547.8 L897 547.8 L901 547.8 L905 547.8 L909 547.8 L913 547.8 L917 547.8 L921 547.8 L925 547.8 L929 547.8 L933 547.8 L936.4 547.8" fill="none" stroke="#5aa0dc" stroke-width="4.7" stroke-linejoin="round" stroke-linecap="butt" />
<path d="M156.6 540.2 L156.6 544.6 L158.5 546.4 L230 546.4 L400 546.8 L936.4 547.4" fill="none" stroke="#141978" stroke-width="4.7" stroke-linejoin="round" stroke-linecap="butt" />
<text transform="translate(144 455.6) scale(1 1.03)" font-family="Liberation Serif" font-size="46" text-anchor="end" fill="#150d0b" >0.2</text>
<text transform="translate(144 559.5) scale(1 1.03)" font-family="Liberation Serif" font-size="46" text-anchor="end" fill="#150d0b" >0</text>
<text transform="translate(144 663.3) scale(1 1.03)" font-family="Liberation Serif" font-size="46" text-anchor="end" fill="#150d0b" >–0.2</text>
<text transform="translate(156.6 728) scale(1 1.03)" font-family="Liberation Serif" font-size="46" text-anchor="middle" fill="#150d0b" >0</text>
<text transform="translate(312.12 728) scale(1 1.03)" font-family="Liberation Serif" font-size="46" text-anchor="middle" fill="#150d0b" >200</text>
<text transform="translate(467.64 728) scale(1 1.03)" font-family="Liberation Serif" font-size="46" text-anchor="middle" fill="#150d0b" >400</text>
<text transform="translate(623.16 728) scale(1 1.03)" font-family="Liberation Serif" font-size="46" text-anchor="middle" fill="#150d0b" >600</text>
<text transform="translate(778.68 728) scale(1 1.03)" font-family="Liberation Serif" font-size="46" text-anchor="middle" fill="#150d0b" >800</text>
<text transform="translate(934.2 728) scale(1 1.03)" font-family="Liberation Serif" font-size="46" text-anchor="middle" fill="#150d0b" >1000</text>
<text transform="translate(545.5 766.5) scale(1 1.03)" font-family="Liberation Serif" font-size="46" text-anchor="middle" fill="#150d0b" font-style="italic">t</text>
<line x1="156.6" y1="832.5" x2="934.2" y2="832.5" stroke="#150d0b" stroke-width="1.6" stroke-dasharray="8.9 9.39"/>
<line x1="156.6" y1="1039.7" x2="934.2" y2="1039.7" stroke="#150d0b" stroke-width="1.6" stroke-dasharray="8.9 9.39"/>
<rect x="156.6" y="806.8" width="777.6" height="258.7" fill="none" stroke="#150d0b" stroke-width="4.3"/>
<line x1="158.45" y1="832.5" x2="169.75" y2="832.5" stroke="#150d0b" stroke-width="4.0" />
<line x1="158.45" y1="884" x2="169.75" y2="884" stroke="#150d0b" stroke-width="4.0" />
<line x1="158.45" y1="935.2" x2="169.75" y2="935.2" stroke="#150d0b" stroke-width="4.0" />
<line x1="158.45" y1="987.6" x2="169.75" y2="987.6" stroke="#150d0b" stroke-width="4.0" />
<line x1="158.45" y1="1040" x2="169.75" y2="1040" stroke="#150d0b" stroke-width="4.0" />
<line x1="312.12" y1="1063.35" x2="312.12" y2="1052.15" stroke="#150d0b" stroke-width="4.0" />
<line x1="467.64" y1="1063.35" x2="467.64" y2="1052.15" stroke="#150d0b" stroke-width="4.0" />
<line x1="623.16" y1="1063.35" x2="623.16" y2="1052.15" stroke="#150d0b" stroke-width="4.0" />
<line x1="778.68" y1="1063.35" x2="778.68" y2="1052.15" stroke="#150d0b" stroke-width="4.0" />
<path d="M156.5 983.5 L157.3 975 L158.6 960 L159.8 944 L160.6 939 L162.2 936.3 L164.5 935.3 L170 935 L936.4 935" fill="none" stroke="#c80014" stroke-width="4.7" stroke-linejoin="round" stroke-linecap="butt" />
<path d="M156.5 983.5 L158.5 983.3 L159 982.8 L159.5 981.96 L160 980.88 L160.5 979.54 L161 977.61 L161.5 975.15 L162 972.29 L162.5 969.16 L163 965.88 L163.5 962.59 L164 959.41 L164.5 956.37 L165 952.93 L165.5 949.48 L166 946.6 L166.5 944.79 L167 943.37 L167.5 942.12 L168 941.05 L168.5 940.15 L169 939.43 L169.5 938.89 L170 938.48 L170.5 938.1 L171 937.76 L171.5 937.46 L172 937.18 L172.5 936.95 L173 936.75 L173.5 936.59 L174 936.47 L174.5 936.39 L175 936.32 L175.5 936.26 L176 936.2 L176.5 936.14 L177 936.09 L177.5 936.04 L178 936 L178.5 935.96 L179 935.92 L179.5 935.89 L180 935.87 L180.5 935.84 L181 935.83 L181.5 935.81 L182 935.8 L182.5 935.8 L183 935.8 L183.5 935.8 L184 935.8 L184.5 935.8 L185 935.8 L185.5 935.8 L186 935.8 L186.5 935.8 L187 935.8 L187.5 935.8 L188 935.8 L188.5 935.8 L189 935.8 L189.5 935.8 L190 935.8 L190.5 935.8 L191 935.8 L191.5 935.8 L192 935.8 L192.5 935.8 L193 935.8 L193.5 935.8 L194 935.8 L194.5 935.8 L195 935.8 L195.5 935.8 L196 935.8 L196.5 935.8 L197 935.8 L197.5 935.8 L198 935.8 L198.5 935.8 L199 935.8 L199.5 935.8 L200 935.8 L200.5 935.8 L201 935.8 L201.5 935.8 L202 935.8 L202.5 935.8 L203 935.8 L203.5 935.8 L204 935.8 L204.5 935.8 L205 935.8 L205.5 935.8 L206 935.8 L206.5 935.8 L207 935.8 L207.5 935.8 L208 935.8 L208.5 935.8 L209 935.8 L209.5 935.8 L210 935.8 L210.5 935.8 L211 935.8 L211.5 935.8 L212 935.8 L212.5 935.8 L213 935.8 L213.5 935.8 L214 935.8 L214.5 935.8 L215 935.8 L215.5 935.8 L216 935.8 L216.5 935.8 L217 935.8 L217.5 935.8 L218 935.8 L218.5 935.8 L219 935.8 L219.5 935.8 L220 935.8 L220.5 935.8 L221 935.8 L221.5 935.8 L222 935.8 L222.5 935.8 L223 935.8 L223.5 935.8 L224 935.8 L224.5 935.8 L225 935.8 L225.5 935.8 L226 935.8 L226.5 935.8 L227 935.8 L227.5 935.8 L228 935.8 L228.5 935.8 L229 935.8 L229.5 935.8 L230 935.8 L230.5 935.8 L231 935.8 L231.5 935.8 L232 935.8 L232.5 935.8 L233 935.8 L233.5 935.8 L234 935.8 L234.5 935.8 L235 935.8 L235.5 935.8 L236 935.8 L236.5 935.8 L237 935.8 L237.5 935.8 L238 935.8 L238.5 935.8 L242.5 935.8 L246.5 935.8 L250.5 935.8 L254.5 935.8 L258.5 935.8 L262.5 935.8 L266.5 935.8 L270.5 935.8 L274.5 935.8 L278.5 935.8 L282.5 935.8 L286.5 935.8 L290.5 935.8 L294.5 935.8 L298.5 935.8 L302.5 935.8 L306.5 935.8 L310.5 935.8 L314.5 935.8 L318.5 935.8 L322.5 935.8 L326.5 935.8 L330.5 935.8 L334.5 935.8 L338.5 935.8 L342.5 935.8 L346.5 935.8 L350.5 935.8 L354.5 935.8 L358.5 935.8 L362.5 935.8 L366.5 935.8 L370.5 935.8 L374.5 935.8 L378.5 935.8 L382.5 935.8 L386.5 935.8 L390.5 935.8 L394.5 935.8 L398.5 935.8 L402.5 935.8 L406.5 935.8 L410.5 935.8 L414.5 935.8 L418.5 935.8 L422.5 935.8 L426.5 935.8 L430.5 935.8 L434.5 935.8 L438.5 935.8 L442.5 935.8 L446.5 935.8 L450.5 935.8 L454.5 935.8 L458.5 935.8 L462.5 935.8 L466.5 935.8 L470.5 935.8 L474.5 935.8 L478.5 935.8 L482.5 935.8 L486.5 935.8 L490.5 935.8 L494.5 935.8 L498.5 935.8 L502.5 935.8 L506.5 935.8 L510.5 935.8 L514.5 935.8 L518.5 935.8 L522.5 935.8 L526.5 935.8 L530.5 935.8 L534.5 935.8 L538.5 935.8 L542.5 935.8 L546.5 935.8 L550.5 935.8 L554.5 935.8 L558.5 935.8 L562.5 935.8 L566.5 935.8 L570.5 935.8 L574.5 935.8 L578.5 935.8 L582.5 935.8 L586.5 935.8 L590.5 935.8 L594.5 935.8 L598.5 935.8 L602.5 935.8 L606.5 935.8 L610.5 935.8 L614.5 935.8 L618.5 935.8 L622.5 935.8 L626.5 935.8 L630.5 935.8 L634.5 935.8 L638.5 935.8 L642.5 935.8 L646.5 935.8 L650.5 935.8 L654.5 935.8 L658.5 935.8 L662.5 935.8 L666.5 935.8 L670.5 935.8 L674.5 935.8 L678.5 935.8 L682.5 935.8 L686.5 935.8 L690.5 935.8 L694.5 935.8 L698.5 935.8 L702.5 935.8 L706.5 935.8 L710.5 935.8 L714.5 935.8 L718.5 935.8 L722.5 935.8 L726.5 935.8 L730.5 935.8 L734.5 935.8 L738.5 935.8 L742.5 935.8 L746.5 935.8 L750.5 935.8 L754.5 935.8 L758.5 935.8 L762.5 935.8 L766.5 935.8 L770.5 935.8 L774.5 935.8 L778.5 935.8 L782.5 935.8 L786.5 935.8 L790.5 935.8 L794.5 935.8 L798.5 935.8 L802.5 935.8 L806.5 935.8 L810.5 935.8 L814.5 935.8 L818.5 935.8 L822.5 935.8 L826.5 935.8 L830.5 935.8 L834.5 935.8 L838.5 935.8 L842.5 935.8 L846.5 935.8 L850.5 935.8 L854.5 935.8 L858.5 935.8 L862.5 935.8 L866.5 935.8 L870.5 935.8 L874.5 935.8 L878.5 935.8 L882.5 935.8 L886.5 935.8 L890.5 935.8 L894.5 935.8 L898.5 935.8 L902.5 935.8 L906.5 935.8 L910.5 935.8 L914.5 935.8 L918.5 935.8 L922.5 935.8 L926.5 935.8 L930.5 935.8 L934.5 935.8 L936.4 935.8" fill="none" stroke="#e8a830" stroke-width="4.7" stroke-linejoin="round" stroke-linecap="butt" />
<path d="M156.5 983.5 L160 983.3 L160.5 983.25 L161 983.14 L161.5 982.98 L162 982.78 L162.5 982.55 L163 982.3 L163.5 982 L164 981.61 L164.5 981.15 L165 980.61 L165.5 980.02 L166 979.39 L166.5 978.72 L167 977.91 L167.5 976.97 L168 975.93 L168.5 974.83 L169 973.69 L169.5 972.55 L170 971.44 L170.5 970.4 L171 969.36 L171.5 968.31 L172 967.26 L172.5 966.21 L173 965.19 L173.5 964.19 L174 963.23 L174.5 962.32 L175 961.45 L175.5 960.6 L176 959.77 L176.5 958.97 L177 958.19 L177.5 957.43 L178 956.7 L178.5 956 L179 955.32 L179.5 954.65 L180 954.01 L180.5 953.38 L181 952.77 L181.5 952.19 L182 951.63 L182.5 951.1 L183 950.6 L183.5 950.11 L184 949.64 L184.5 949.19 L185 948.76 L185.5 948.34 L186 947.94 L186.5 947.55 L187 947.18 L187.5 946.81 L188 946.46 L188.5 946.12 L189 945.8 L189.5 945.48 L190 945.19 L190.5 944.91 L191 944.64 L191.5 944.39 L192 944.14 L192.5 943.89 L193 943.66 L193.5 943.43 L194 943.2 L194.5 942.99 L195 942.77 L195.5 942.57 L196 942.37 L196.5 942.17 L197 941.98 L197.5 941.79 L198 941.61 L198.5 941.44 L199 941.27 L199.5 941.1 L200 940.93 L200.5 940.77 L201 940.61 L201.5 940.45 L202 940.29 L202.5 940.14 L203 940 L203.5 939.85 L204 939.72 L204.5 939.58 L205 939.46 L205.5 939.33 L206 939.22 L206.5 939.1 L207 939 L207.5 938.9 L208 938.8 L208.5 938.71 L209 938.61 L209.5 938.52 L210 938.43 L210.5 938.35 L211 938.26 L211.5 938.19 L212 938.11 L212.5 938.04 L213 937.97 L213.5 937.9 L214 937.84 L214.5 937.78 L215 937.72 L215.5 937.67 L216 937.62 L216.5 937.56 L217 937.51 L217.5 937.46 L218 937.41 L218.5 937.36 L219 937.31 L219.5 937.26 L220 937.22 L220.5 937.17 L221 937.13 L221.5 937.08 L222 937.04 L222.5 937 L223 936.96 L223.5 936.92 L224 936.88 L224.5 936.85 L225 936.82 L225.5 936.78 L226 936.75 L226.5 936.73 L227 936.7 L227.5 936.68 L228 936.66 L228.5 936.64 L229 936.62 L229.5 936.61 L230 936.6 L230.5 936.59 L231 936.58 L231.5 936.57 L232 936.56 L232.5 936.55 L233 936.55 L233.5 936.54 L234 936.53 L234.5 936.52 L235 936.51 L235.5 936.5 L236 936.49 L236.5 936.49 L237 936.48 L237.5 936.47 L238 936.46 L238.5 936.45 L239 936.45 L239.5 936.44 L240 936.43 L244 936.37 L248 936.32 L252 936.27 L256 936.22 L260 936.18 L264 936.15 L268 936.11 L272 936.09 L276 936.06 L280 936.04 L284 936.03 L288 936.02 L292 936.01 L296 936 L300 936 L304 936 L308 936 L312 936 L316 936 L320 936 L324 936 L328 936 L332 936 L336 936 L340 936 L344 936 L348 936 L352 936 L356 936 L360 936 L364 936 L368 936 L372 936 L376 936 L380 936 L384 936 L388 936 L392 936 L396 936 L400 936 L404 936 L408 936 L412 936 L416 936 L420 936 L424 936 L428 936 L432 936 L436 936 L440 936 L444 936 L448 936 L452 936 L456 936 L460 936 L464 936 L468 936 L472 936 L476 936 L480 936 L484 936 L488 936.01 L492 936.01 L496 936.01 L500 936.01 L504 936.01 L508 936.01 L512 936.01 L516 936.01 L520 936.01 L524 936.01 L528 936.01 L532 936.01 L536 936.01 L540 936.01 L544 936.01 L548 936.01 L552 936.01 L556 936.01 L560 936.01 L564 936.01 L568 936.01 L572 936.02 L576 936.02 L580 936.02 L584 936.02 L588 936.02 L592 936.02 L596 936.02 L600 936.02 L604 936.02 L608 936.02 L612 936.02 L616 936.02 L620 936.03 L624 936.03 L628 936.03 L632 936.03 L636 936.03 L640 936.03 L644 936.03 L648 936.03 L652 936.03 L656 936.04 L660 936.04 L664 936.04 L668 936.04 L672 936.04 L676 936.04 L680 936.04 L684 936.04 L688 936.05 L692 936.05 L696 936.05 L700 936.05 L704 936.05 L708 936.05 L712 936.05 L716 936.06 L720 936.06 L724 936.06 L728 936.06 L732 936.06 L736 936.06 L740 936.07 L744 936.07 L748 936.07 L752 936.07 L756 936.07 L760 936.08 L764 936.08 L768 936.08 L772 936.08 L776 936.08 L780 936.09 L784 936.09 L788 936.09 L792 936.09 L796 936.09 L800 936.1 L804 936.1 L808 936.1 L812 936.1 L816 936.11 L820 936.11 L824 936.11 L828 936.11 L832 936.12 L836 936.12 L840 936.12 L844 936.12 L848 936.13 L852 936.13 L856 936.13 L860 936.14 L864 936.14 L868 936.14 L872 936.15 L876 936.15 L880 936.15 L884 936.15 L888 936.16 L892 936.16 L896 936.16 L900 936.17 L904 936.17 L908 936.17 L912 936.18 L916 936.18 L920 936.18 L924 936.19 L928 936.19 L932 936.2 L936 936.2 L936.4 936.2" fill="none" stroke="#d8dc00" stroke-width="4.7" stroke-linejoin="round" stroke-linecap="butt" />
<path d="M156.6 983.5 L157.1 983.49 L157.6 983.48 L158.1 983.46 L158.6 983.43 L159.1 983.41 L159.6 983.38 L160.1 983.34 L160.6 983.3 L161.1 983.27 L161.6 983.22 L162.1 983.18 L162.6 983.13 L163.1 983.08 L163.6 983.03 L164.1 982.97 L164.6 982.92 L165.1 982.86 L165.6 982.8 L166.1 982.74 L166.6 982.67 L167.1 982.61 L167.6 982.54 L168.1 982.47 L168.6 982.4 L169.1 982.32 L169.6 982.25 L170.1 982.17 L170.6 982.09 L171.1 982.01 L171.6 981.93 L172.1 981.85 L172.6 981.77 L173.1 981.68 L173.6 981.59 L174.1 981.51 L174.6 981.42 L175.1 981.33 L175.6 981.23 L176.1 981.14 L176.6 981.05 L177.1 980.95 L177.6 980.85 L178.1 980.75 L178.6 980.66 L179.1 980.55 L179.6 980.45 L180.1 980.35 L180.6 980.25 L181.1 980.14 L181.6 980.04 L182.1 979.93 L182.6 979.82 L183.1 979.71 L183.6 979.6 L184.1 979.49 L184.6 979.38 L185.1 979.27 L185.6 979.15 L186.1 979.04 L186.6 978.92 L187.1 978.81 L187.6 978.69 L188.1 978.57 L188.6 978.45 L189.1 978.33 L189.6 978.21 L190.1 978.09 L190.6 977.97 L191.1 977.85 L191.6 977.72 L192.1 977.6 L192.6 977.47 L193.1 977.35 L193.6 977.22 L194.1 977.1 L194.6 976.97 L195.1 976.84 L195.6 976.71 L196.1 976.58 L196.6 976.45 L197.1 976.32 L197.6 976.19 L198.1 976.06 L198.6 975.93 L199.1 975.8 L199.6 975.66 L200.1 975.53 L200.6 975.4 L201.1 975.26 L201.6 975.13 L202.1 974.99 L202.6 974.86 L203.1 974.72 L203.6 974.58 L204.1 974.45 L204.6 974.31 L205.1 974.17 L205.6 974.03 L206.1 973.89 L206.6 973.76 L207.1 973.62 L207.6 973.48 L208.1 973.34 L208.6 973.2 L209.1 973.06 L209.6 972.91 L210.1 972.77 L210.6 972.63 L211.1 972.49 L211.6 972.35 L212.1 972.21 L212.6 972.06 L213.1 971.92 L213.6 971.78 L214.1 971.64 L214.6 971.49 L215.1 971.35 L215.6 971.21 L216.1 971.06 L216.6 970.92 L217.1 970.77 L217.6 970.63 L218.1 970.48 L218.6 970.34 L219.1 970.2 L219.6 970.05 L220.1 969.91 L220.6 969.76 L221.1 969.62 L221.6 969.47 L222.1 969.33 L222.6 969.18 L223.1 969.03 L223.6 968.89 L224.1 968.74 L224.6 968.6 L225.1 968.45 L225.6 968.31 L226.1 968.16 L226.6 968.02 L227.1 967.87 L227.6 967.73 L228.1 967.58 L228.6 967.43 L229.1 967.29 L229.6 967.14 L230.1 967 L230.6 966.85 L231.1 966.71 L231.6 966.56 L232.1 966.42 L232.6 966.27 L233.1 966.13 L233.6 965.98 L234.1 965.84 L234.6 965.69 L235.1 965.55 L235.6 965.4 L236.1 965.26 L236.6 965.11 L237.1 964.97 L237.6 964.83 L238.1 964.68 L238.6 964.54 L239.1 964.4 L239.6 964.25 L240.1 964.11 L240.6 963.97 L241.1 963.82 L241.6 963.68 L242.1 963.54 L242.6 963.39 L243.1 963.25 L243.6 963.11 L244.1 962.97 L244.6 962.83 L245.1 962.69 L245.6 962.54 L246.1 962.4 L246.6 962.26 L247.1 962.12 L247.6 961.98 L248.1 961.84 L248.6 961.7 L249.1 961.56 L249.6 961.42 L250.1 961.29 L250.6 961.15 L251.1 961.01 L251.6 960.87 L252.1 960.73 L252.6 960.59 L253.1 960.46 L253.6 960.32 L254.1 960.18 L254.6 960.05 L255.1 959.91 L255.6 959.78 L256.1 959.64 L256.6 959.5 L256.6 959.5 L259.6 958.7 L262.6 957.91 L265.6 957.13 L268.6 956.36 L271.6 955.61 L274.6 954.87 L277.6 954.14 L280.6 953.43 L283.6 952.74 L286.6 952.06 L289.6 951.39 L292.6 950.75 L295.6 950.11 L298.6 949.5 L301.6 948.9 L304.6 948.31 L307.6 947.75 L310.6 947.2 L313.6 946.66 L316.6 946.14 L319.6 945.64 L322.6 945.15 L325.6 944.68 L328.6 944.22 L331.6 943.78 L334.6 943.35 L337.6 942.93 L340.6 942.54 L343.6 942.15 L346.6 941.78 L349.6 941.42 L352.6 941.08 L355.6 940.75 L358.6 940.43 L361.6 940.12 L364.6 939.82 L367.6 939.54 L370.6 939.27 L373.6 939.01 L376.6 938.76 L379.6 938.52 L382.6 938.29 L385.6 938.07 L388.6 937.86 L391.6 937.65 L394.6 937.46 L397.6 937.28 L400.6 937.1 L403.6 936.93 L406.6 936.77 L409.6 936.62 L412.6 936.47 L415.6 936.33 L418.6 936.2 L421.6 936.07 L424.6 935.95 L427.6 935.84 L430.6 935.73 L433.6 935.62 L436.6 935.52 L439.6 935.43 L442.6 935.34 L445.6 935.25 L448.6 935.17 L451.6 935.1 L454.6 935.02 L457.6 934.95 L460.6 934.89 L463.6 934.83 L466.6 934.77 L469.6 934.71 L472.6 934.66 L475.6 934.61 L478.6 934.56 L481.6 934.51 L484.6 934.47 L487.6 934.43 L490.6 934.39 L493.6 934.35 L496.6 934.32 L499.6 934.28 L502.6 934.25 L505.6 934.22 L508.6 934.19 L511.6 934.17 L514.6 934.14 L517.6 934.12 L520.6 934.1 L523.6 934.07 L526.6 934.05 L529.6 934.03 L532.6 934.01 L535.6 934 L538.6 933.98 L541.6 933.96 L544.6 933.95 L547.6 933.93 L550.6 933.92 L553.6 933.9 L556.6 933.89 L559.6 933.88 L562.6 933.87 L565.6 933.86 L568.6 933.85 L571.6 933.83 L574.6 933.82 L577.6 933.82 L580.6 933.81 L583.6 933.8 L586.6 933.79 L589.6 933.78 L592.6 933.77 L595.6 933.76 L598.6 933.76 L601.6 933.75 L604.6 933.74 L607.6 933.73 L610.6 933.73 L613.6 933.72 L616.6 933.71 L619.6 933.71 L622.6 933.7 L625.6 933.69 L628.6 933.69 L631.6 933.68 L634.6 933.68 L637.6 933.67 L640.6 933.67 L643.6 933.66 L646.6 933.65 L649.6 933.65 L652.6 933.64 L655.6 933.64 L658.6 933.63 L661.6 933.63 L664.6 933.62 L667.6 933.62 L670.6 933.61 L673.6 933.61 L676.6 933.6 L679.6 933.6 L682.6 933.59 L685.6 933.59 L688.6 933.58 L691.6 933.58 L694.6 933.57 L697.6 933.57 L700.6 933.56 L703.6 933.56 L706.6 933.55 L709.6 933.55 L712.6 933.54 L715.6 933.54 L718.6 933.53 L721.6 933.53 L724.6 933.52 L727.6 933.52 L730.6 933.52 L733.6 933.51 L736.6 933.51 L739.6 933.5 L742.6 933.5 L745.6 933.49 L748.6 933.49 L751.6 933.48 L754.6 933.48 L757.6 933.47 L760.6 933.47 L763.6 933.46 L766.6 933.46 L769.6 933.45 L772.6 933.45 L775.6 933.44 L778.6 933.44 L781.6 933.44 L784.6 933.43 L787.6 933.43 L790.6 933.42 L793.6 933.42 L796.6 933.41 L799.6 933.41 L802.6 933.4 L805.6 933.4 L808.6 933.39 L811.6 933.39 L814.6 933.38 L817.6 933.38 L820.6 933.38 L823.6 933.37 L826.6 933.37 L829.6 933.36 L832.6 933.36 L835.6 933.35 L838.6 933.35 L841.6 933.34 L844.6 933.34 L847.6 933.33 L850.6 933.33 L853.6 933.32 L856.6 933.32 L859.6 933.32 L862.6 933.31 L865.6 933.31 L868.6 933.3 L871.6 933.3 L874.6 933.29 L877.6 933.29 L880.6 933.28 L883.6 933.28 L886.6 933.27 L889.6 933.27 L892.6 933.26 L895.6 933.26 L898.6 933.25 L901.6 933.25 L904.6 933.25 L907.6 933.24 L910.6 933.24 L913.6 933.23 L916.6 933.23 L919.6 933.22 L922.6 933.22 L925.6 933.21 L928.6 933.21 L931.6 933.2 L934.6 933.2 L936.4 933.2" fill="none" stroke="#4fa13a" stroke-width="4.7" stroke-linejoin="round" stroke-linecap="butt" />
<path d="M156.5 983.5 L157 983.5 L157.5 983.5 L158 983.5 L158.5 983.5 L159 983.5 L159.5 983.5 L160 983.5 L160.5 983.49 L161 983.49 L161.5 983.49 L162 983.49 L162.5 983.49 L163 983.49 L163.5 983.49 L164 983.49 L164.5 983.49 L165 983.49 L165.5 983.49 L166 983.49 L166.5 983.49 L167 983.48 L167.5 983.48 L168 983.48 L168.5 983.48 L169 983.48 L169.5 983.48 L170 983.48 L170.5 983.48 L171 983.48 L171.5 983.48 L172 983.48 L172.5 983.48 L173 983.48 L173.5 983.47 L174 983.47 L174.5 983.47 L175 983.47 L175.5 983.47 L176 983.47 L176.5 983.47 L177 983.47 L177.5 983.47 L178 983.47 L178.5 983.47 L179 983.47 L179.5 983.47 L180 983.46 L180.5 983.46 L181 983.46 L181.5 983.46 L182 983.46 L182.5 983.46 L183 983.46 L183.5 983.46 L184 983.46 L184.5 983.46 L185 983.46 L185.5 983.46 L186 983.45 L186.5 983.45 L187 983.45 L187.5 983.45 L188 983.45 L188.5 983.45 L189 983.45 L189.5 983.45 L190 983.45 L190.5 983.45 L191 983.45 L191.5 983.45 L192 983.44 L192.5 983.44 L193 983.44 L193.5 983.44 L194 983.44 L194.5 983.44 L195 983.44 L195.5 983.44 L196 983.44 L196.5 983.44 L197 983.44 L197.5 983.43 L198 983.43 L198.5 983.43 L199 983.43 L199.5 983.43 L200 983.43 L200.5 983.43 L201 983.43 L201.5 983.43 L202 983.43 L202.5 983.43 L203 983.42 L203.5 983.42 L204 983.42 L204.5 983.42 L205 983.42 L205.5 983.42 L206 983.42 L206.5 983.42 L207 983.42 L207.5 983.42 L208 983.41 L208.5 983.41 L209 983.41 L209.5 983.41 L210 983.41 L210.5 983.41 L211 983.41 L211.5 983.41 L212 983.41 L212.5 983.41 L213 983.41 L213.5 983.4 L214 983.4 L214.5 983.4 L215 983.4 L215.5 983.4 L216 983.4 L216.5 983.4 L217 983.4 L217.5 983.4 L218 983.4 L218.5 983.39 L219 983.39 L219.5 983.39 L220 983.39 L220.5 983.39 L221 983.39 L221.5 983.39 L222 983.39 L222.5 983.39 L223 983.39 L223.5 983.38 L224 983.38 L224.5 983.38 L225 983.38 L225.5 983.38 L226 983.38 L226.5 983.38 L227 983.38 L227.5 983.38 L228 983.37 L228.5 983.37 L229 983.37 L229.5 983.37 L230 983.37 L230.5 983.37 L231 983.37 L231.5 983.37 L232 983.37 L232.5 983.37 L233 983.36 L233.5 983.36 L234 983.36 L234.5 983.36 L235 983.36 L235.5 983.36 L236 983.36 L236.5 983.36 L240.5 983.35 L244.5 983.34 L248.5 983.33 L252.5 983.32 L256.5 983.31 L260.5 983.3 L264.5 983.29 L268.5 983.28 L272.5 983.27 L276.5 983.26 L280.5 983.25 L284.5 983.24 L288.5 983.23 L292.5 983.22 L296.5 983.21 L300.5 983.2 L304.5 983.19 L308.5 983.18 L312.5 983.16 L316.5 983.15 L320.5 983.14 L324.5 983.13 L328.5 983.12 L332.5 983.1 L336.5 983.09 L340.5 983.08 L344.5 983.06 L348.5 983.05 L352.5 983.04 L356.5 983.02 L360.5 983.01 L364.5 982.99 L368.5 982.98 L372.5 982.97 L376.5 982.95 L380.5 982.93 L384.5 982.92 L388.5 982.9 L392.5 982.89 L396.5 982.87 L400.5 982.86 L404.5 982.84 L408.5 982.82 L412.5 982.81 L416.5 982.79 L420.5 982.77 L424.5 982.76 L428.5 982.74 L432.5 982.72 L436.5 982.7 L440.5 982.69 L444.5 982.67 L448.5 982.65 L452.5 982.63 L456.5 982.61 L460.5 982.59 L464.5 982.58 L468.5 982.56 L472.5 982.54 L476.5 982.52 L480.5 982.5 L484.5 982.48 L488.5 982.46 L492.5 982.44 L496.5 982.42 L500.5 982.4 L504.5 982.38 L508.5 982.36 L512.5 982.34 L516.5 982.32 L520.5 982.3 L524.5 982.28 L528.5 982.26 L532.5 982.24 L536.5 982.22 L540.5 982.2 L544.5 982.18 L548.5 982.15 L552.5 982.13 L556.5 982.11 L560.5 982.09 L564.5 982.07 L568.5 982.05 L572.5 982.02 L576.5 982 L580.5 981.98 L584.5 981.96 L588.5 981.94 L592.5 981.91 L596.5 981.89 L600.5 981.87 L604.5 981.85 L608.5 981.83 L612.5 981.8 L616.5 981.78 L620.5 981.76 L624.5 981.74 L628.5 981.71 L632.5 981.69 L636.5 981.67 L640.5 981.64 L644.5 981.62 L648.5 981.6 L652.5 981.58 L656.5 981.55 L660.5 981.53 L664.5 981.51 L668.5 981.48 L672.5 981.46 L676.5 981.44 L680.5 981.41 L684.5 981.39 L688.5 981.37 L692.5 981.34 L696.5 981.32 L700.5 981.3 L704.5 981.27 L708.5 981.25 L712.5 981.23 L716.5 981.2 L720.5 981.18 L724.5 981.15 L728.5 981.13 L732.5 981.1 L736.5 981.08 L740.5 981.05 L744.5 981.03 L748.5 981 L752.5 980.97 L756.5 980.95 L760.5 980.92 L764.5 980.89 L768.5 980.87 L772.5 980.84 L776.5 980.81 L780.5 980.79 L784.5 980.76 L788.5 980.73 L792.5 980.7 L796.5 980.67 L800.5 980.64 L804.5 980.62 L808.5 980.59 L812.5 980.56 L816.5 980.53 L820.5 980.5 L824.5 980.47 L828.5 980.44 L832.5 980.41 L836.5 980.38 L840.5 980.35 L844.5 980.32 L848.5 980.29 L852.5 980.26 L856.5 980.23 L860.5 980.2 L864.5 980.17 L868.5 980.14 L872.5 980.11 L876.5 980.08 L880.5 980.05 L884.5 980.01 L888.5 979.98 L892.5 979.95 L896.5 979.92 L900.5 979.89 L904.5 979.86 L908.5 979.82 L912.5 979.79 L916.5 979.76 L920.5 979.73 L924.5 979.7 L928.5 979.66 L932.5 979.63 L936.4 979.6" fill="none" stroke="#5aa0dc" stroke-width="4.7" stroke-linejoin="round" stroke-linecap="butt" />
<path d="M153.8 983.5 L154.3 983.5 L154.8 983.5 L155.3 983.5 L155.8 983.5 L156.3 983.5 L156.8 983.5 L157.3 983.52 L157.8 983.55 L158.3 983.59 L158.8 983.63 L159.3 983.68 L159.8 983.73 L160.3 983.78 L160.8 983.84 L161.3 983.91 L161.8 983.97 L162.3 984.04 L162.8 984.12 L163.3 984.19 L163.8 984.27 L164.3 984.36 L164.8 984.44 L165.3 984.53 L165.8 984.62 L166.3 984.71 L166.8 984.81 L167.3 984.9 L167.8 985 L168.3 985.1 L168.8 985.21 L169.3 985.31 L169.8 985.42 L170.3 985.53 L170.8 985.64 L171.3 985.76 L171.8 985.87 L172.3 985.99 L172.8 986.11 L173.3 986.23 L173.8 986.35 L174.3 986.47 L174.8 986.6 L175.3 986.72 L175.8 986.85 L176.3 986.98 L176.8 987.11 L177.3 987.24 L177.8 987.38 L178.3 987.51 L178.8 987.65 L179.3 987.78 L179.8 987.92 L180.3 988.06 L180.8 988.2 L181.3 988.34 L181.8 988.49 L182.3 988.63 L182.8 988.78 L183.3 988.92 L183.8 989.07 L184.3 989.22 L184.8 989.37 L185.3 989.52 L185.8 989.67 L186.3 989.82 L186.8 989.97 L187.3 990.12 L187.8 990.28 L188.3 990.43 L188.8 990.59 L189.3 990.75 L189.8 990.9 L190.3 991.06 L190.8 991.22 L191.3 991.38 L191.8 991.54 L192.3 991.7 L192.8 991.86 L193.3 992.02 L193.8 992.18 L194.3 992.35 L194.8 992.51 L195.3 992.67 L195.8 992.84 L196.3 993 L196.8 993.17 L197.3 993.34 L197.8 993.5 L198.3 993.67 L198.8 993.84 L199.3 994 L199.8 994.17 L200.3 994.34 L200.8 994.51 L201.3 994.68 L201.8 994.85 L202.3 995.02 L202.8 995.19 L203.3 995.36 L203.8 995.53 L204.3 995.7 L204.8 995.87 L205.3 996.04 L205.8 996.21 L206.3 996.39 L206.8 996.56 L207.3 996.73 L207.8 996.9 L208.3 997.07 L208.8 997.25 L209.3 997.42 L209.8 997.59 L210.3 997.77 L210.8 997.94 L211.3 998.11 L211.8 998.29 L212.3 998.46 L212.8 998.63 L213.3 998.81 L213.8 998.98 L214.3 999.15 L214.8 999.33 L215.3 999.5 L215.8 999.68 L216.3 999.85 L216.8 1000.02 L217.3 1000.2 L217.8 1000.37 L218.3 1000.54 L218.8 1000.72 L219.3 1000.89 L219.8 1001.06 L220.3 1001.24 L220.8 1001.41 L221.3 1001.58 L221.8 1001.76 L222.3 1001.93 L222.8 1002.1 L223.3 1002.27 L223.8 1002.45 L224.3 1002.62 L224.8 1002.79 L225.3 1002.96 L225.8 1003.13 L226.3 1003.31 L226.8 1003.48 L227.3 1003.65 L227.8 1003.82 L228.3 1003.99 L228.8 1004.16 L229.3 1004.33 L229.8 1004.5 L230.3 1004.67 L230.8 1004.84 L231.3 1005.01 L231.8 1005.18 L232.3 1005.35 L232.8 1005.51 L233.3 1005.68 L233.8 1005.85 L234.3 1006.02 L234.8 1006.19 L235.3 1006.35 L235.8 1006.52 L236.3 1006.69 L236.8 1006.85 L237.3 1007.02 L237.8 1007.18 L238.3 1007.35 L238.8 1007.51 L239.3 1007.68 L239.8 1007.84 L240.3 1008 L240.8 1008.17 L241.3 1008.33 L241.8 1008.49 L242.3 1008.66 L242.8 1008.82 L243.3 1008.98 L243.8 1009.14 L244.3 1009.3 L244.8 1009.46 L245.3 1009.62 L245.8 1009.78 L246.3 1009.94 L246.8 1010.1 L247.3 1010.25 L247.8 1010.41 L248.3 1010.57 L248.8 1010.73 L249.3 1010.88 L249.8 1011.04 L250.3 1011.19 L250.8 1011.35 L251.3 1011.5 L251.8 1011.66 L252.3 1011.81 L252.8 1011.96 L253.3 1012.12 L253.8 1012.27 L256.8 1013.17 L259.8 1014.06 L262.8 1014.93 L265.8 1015.78 L268.8 1016.61 L271.8 1017.42 L274.8 1018.21 L277.8 1018.98 L280.8 1019.73 L283.8 1020.47 L286.8 1021.18 L289.8 1021.87 L292.8 1022.54 L295.8 1023.2 L298.8 1023.83 L301.8 1024.44 L304.8 1025.04 L307.8 1025.61 L310.8 1026.17 L313.8 1026.71 L316.8 1027.23 L319.8 1027.73 L322.8 1028.22 L325.8 1028.68 L328.8 1029.13 L331.8 1029.57 L334.8 1029.98 L337.8 1030.38 L340.8 1030.77 L343.8 1031.14 L346.8 1031.5 L349.8 1031.84 L352.8 1032.17 L355.8 1032.48 L358.8 1032.78 L361.8 1033.07 L364.8 1033.35 L367.8 1033.61 L370.8 1033.86 L373.8 1034.11 L376.8 1034.34 L379.8 1034.56 L382.8 1034.77 L385.8 1034.97 L388.8 1035.16 L391.8 1035.35 L394.8 1035.52 L397.8 1035.69 L400.8 1035.84 L403.8 1035.99 L406.8 1036.14 L409.8 1036.27 L412.8 1036.4 L415.8 1036.53 L418.8 1036.64 L421.8 1036.75 L424.8 1036.86 L427.8 1036.96 L430.8 1037.05 L433.8 1037.14 L436.8 1037.23 L439.8 1037.31 L442.8 1037.38 L445.8 1037.45 L448.8 1037.52 L451.8 1037.59 L454.8 1037.65 L457.8 1037.71 L460.8 1037.76 L463.8 1037.81 L466.8 1037.86 L469.8 1037.9 L472.8 1037.95 L475.8 1037.99 L478.8 1038.03 L481.8 1038.06 L484.8 1038.1 L487.8 1038.13 L490.8 1038.16 L493.8 1038.19 L496.8 1038.21 L499.8 1038.24 L502.8 1038.26 L505.8 1038.28 L508.8 1038.3 L511.8 1038.32 L514.8 1038.34 L517.8 1038.36 L520.8 1038.37 L523.8 1038.39 L526.8 1038.4 L529.8 1038.42 L532.8 1038.43 L535.8 1038.44 L538.8 1038.45 L541.8 1038.46 L544.8 1038.47 L547.8 1038.48 L550.8 1038.49 L553.8 1038.5 L556.8 1038.5 L559.8 1038.51 L562.8 1038.52 L565.8 1038.52 L568.8 1038.53 L571.8 1038.53 L574.8 1038.54 L577.8 1038.54 L580.8 1038.55 L583.8 1038.55 L586.8 1038.55 L589.8 1038.56 L592.8 1038.56 L595.8 1038.56 L598.8 1038.57 L601.8 1038.57 L604.8 1038.57 L607.8 1038.57 L610.8 1038.57 L613.8 1038.58 L616.8 1038.58 L619.8 1038.58 L622.8 1038.58 L625.8 1038.58 L628.8 1038.58 L631.8 1038.59 L634.8 1038.59 L637.8 1038.59 L640.8 1038.59 L643.8 1038.59 L646.8 1038.59 L649.8 1038.59 L652.8 1038.59 L655.8 1038.59 L658.8 1038.59 L661.8 1038.59 L664.8 1038.59 L667.8 1038.59 L670.8 1038.59 L673.8 1038.6 L676.8 1038.6 L679.8 1038.6 L682.8 1038.6 L685.8 1038.6 L688.8 1038.6 L690.3 1038.6" fill="none" stroke="#141978" stroke-width="4.7" stroke-linejoin="round" stroke-linecap="butt" />
<path d="M717.5 1039.2 L777.8 1039.2" fill="none" stroke="#141978" stroke-width="4.7" stroke-linejoin="round" stroke-linecap="butt" />
<path d="M834 1039.2 L879 1039.2" fill="none" stroke="#141978" stroke-width="4.7" stroke-linejoin="round" stroke-linecap="butt" />
<path d="M686 832.5 L721.6 832.5" fill="none" stroke="#141978" stroke-width="4.7" stroke-linejoin="round" stroke-linecap="butt" />
<path d="M773 832.5 L838 832.5" fill="none" stroke="#141978" stroke-width="4.7" stroke-linejoin="round" stroke-linecap="butt" />
<path d="M874 832.5 L936.4 832.5" fill="none" stroke="#141978" stroke-width="4.7" stroke-linejoin="round" stroke-linecap="butt" />
<text transform="translate(143 844.5) scale(1 1.03)" font-family="Liberation Serif" font-size="46" text-anchor="end" fill="#150d0b" >π/3</text>
<text transform="translate(144 947.8) scale(1 1.03)" font-family="Liberation Serif" font-size="46" text-anchor="end" fill="#150d0b" >0</text>
<text transform="translate(142 1052.3) scale(1 1.03)" font-family="Liberation Serif" font-size="46" text-anchor="end" fill="#150d0b" >–π/3</text>
<text transform="translate(156.6 1116.3) scale(1 1.03)" font-family="Liberation Serif" font-size="46" text-anchor="middle" fill="#150d0b" >0</text>
<text transform="translate(312.12 1116.3) scale(1 1.03)" font-family="Liberation Serif" font-size="46" text-anchor="middle" fill="#150d0b" >200</text>
<text transform="translate(467.64 1116.3) scale(1 1.03)" font-family="Liberation Serif" font-size="46" text-anchor="middle" fill="#150d0b" >400</text>
<text transform="translate(623.16 1116.3) scale(1 1.03)" font-family="Liberation Serif" font-size="46" text-anchor="middle" fill="#150d0b" >600</text>
<text transform="translate(778.68 1116.3) scale(1 1.03)" font-family="Liberation Serif" font-size="46" text-anchor="middle" fill="#150d0b" >800</text>
<text transform="translate(934.2 1116.3) scale(1 1.03)" font-family="Liberation Serif" font-size="46" text-anchor="middle" fill="#150d0b" >1000</text>
<text transform="translate(545.5 1155.3) scale(1 1.03)" font-family="Liberation Serif" font-size="46" text-anchor="middle" fill="#150d0b" font-style="italic">t</text>
<path d="M556.8 858.2 L600.5 858.2" fill="none" stroke="#c80014" stroke-width="4.6" stroke-linejoin="round" stroke-linecap="butt" />
<text x="610.2" y="867" font-family="Liberation Serif" font-size="31.5" font-style="italic" fill="#150d0b">ℓ</text>
<rect x="633.1" y="852.45" width="16.9" height="1.5" rx="0.7" fill="#150d0b"/>
<rect x="633.1" y="857.85" width="16.9" height="1.5" rx="0.7" fill="#150d0b"/>
<text x="658.3" y="867" font-family="Liberation Serif" font-size="31.8" fill="#150d0b">0.25</text>
<path d="M556.8 884.3 L600.5 884.3" fill="none" stroke="#e8a830" stroke-width="4.6" stroke-linejoin="round" stroke-linecap="butt" />
<text x="610.2" y="893" font-family="Liberation Serif" font-size="31.5" font-style="italic" fill="#150d0b">ℓ</text>
<rect x="633.1" y="878.45" width="16.9" height="1.5" rx="0.7" fill="#150d0b"/>
<rect x="633.1" y="883.85" width="16.9" height="1.5" rx="0.7" fill="#150d0b"/>
<text x="658.3" y="893" font-family="Liberation Serif" font-size="31.8" fill="#150d0b">0.5</text>
<path d="M556.8 910 L600.5 910" fill="none" stroke="#d8dc00" stroke-width="4.6" stroke-linejoin="round" stroke-linecap="butt" />
<text x="610.2" y="918.8" font-family="Liberation Serif" font-size="31.5" font-style="italic" fill="#150d0b">ℓ</text>
<rect x="633.1" y="904.25" width="16.9" height="1.5" rx="0.7" fill="#150d0b"/>
<rect x="633.1" y="909.65" width="16.9" height="1.5" rx="0.7" fill="#150d0b"/>
<text x="658.3" y="918.8" font-family="Liberation Serif" font-size="31.8" fill="#150d0b">0.75</text>
<path d="M763.4 858.2 L807 858.2" fill="none" stroke="#4fa13a" stroke-width="4.6" stroke-linejoin="round" stroke-linecap="butt" />
<text x="817.5" y="867" font-family="Liberation Serif" font-size="31.5" font-style="italic" fill="#150d0b">ℓ</text>
<rect x="840.4" y="852.45" width="16.9" height="1.5" rx="0.7" fill="#150d0b"/>
<rect x="840.4" y="857.85" width="16.9" height="1.5" rx="0.7" fill="#150d0b"/>
<text x="865.6" y="867" font-family="Liberation Serif" font-size="31.8" fill="#150d0b">1.0</text>
<path d="M763.4 884.3 L807 884.3" fill="none" stroke="#5aa0dc" stroke-width="4.6" stroke-linejoin="round" stroke-linecap="butt" />
<text x="817.5" y="893" font-family="Liberation Serif" font-size="31.5" font-style="italic" fill="#150d0b">ℓ</text>
<rect x="840.4" y="878.45" width="16.9" height="1.5" rx="0.7" fill="#150d0b"/>
<rect x="840.4" y="883.85" width="16.9" height="1.5" rx="0.7" fill="#150d0b"/>
<text x="865.6" y="893" font-family="Liberation Serif" font-size="31.8" fill="#150d0b">1.5</text>
<path d="M763.4 910 L807 910" fill="none" stroke="#141978" stroke-width="4.6" stroke-linejoin="round" stroke-linecap="butt" />
<text x="817.5" y="918.8" font-family="Liberation Serif" font-size="31.5" font-style="italic" fill="#150d0b">ℓ</text>
<rect x="840.4" y="904.25" width="16.9" height="1.5" rx="0.7" fill="#150d0b"/>
<rect x="840.4" y="909.65" width="16.9" height="1.5" rx="0.7" fill="#150d0b"/>
<text x="865.6" y="918.8" font-family="Liberation Serif" font-size="31.8" fill="#150d0b">2.0</text>
<rect x="19" y="136.3" width="1.9" height="41.4" fill="#150d0b"/>
<rect x="71.7" y="136.3" width="1.9" height="41.4" fill="#150d0b"/>
<path transform="translate(10 130) scale(0.076377)" fill="#150d0b" d="M232 242 C255 215 300 195 340 197 C380 200 392 240 386 285 C380 330 352 380 356 425 C360 460 390 470 420 460 C470 440 510 385 522 330 C528 300 520 285 495 272 C465 255 460 210 500 202 C545 194 578 230 574 285 C568 370 500 490 385 507 C320 515 262 470 270 405 C276 350 300 300 298 265 C296 240 265 232 232 242 Z"/>
<text x="54.6" y="173.6" font-family="Liberation Serif" font-size="26.3" font-style="italic" fill="#150d0b">c</text>
<text x="35" y="556.2" font-family="Liberation Serif" font-size="46" font-style="italic" fill="#150d0b">ω<tspan font-size="27" dy="5.4">c</tspan></text>
<g transform="translate(25 915) scale(0.061087)" fill="#150d0b"><path d="M245 208 C275 195 318 205 322 260 C330 310 310 360 312 420 C314 478 345 510 395 510 C470 512 530 460 555 380 C575 310 590 240 675 205 L680 212 C625 240 615 300 598 370 C575 460 510 540 400 542 C310 544 245 490 246 420 C247 350 280 320 282 270 C284 235 268 218 245 215 Z"/><path d="M470 203 L322 697" stroke="#150d0b" stroke-width="36" stroke-linecap="round" fill="none"/></g>
<text transform="translate(7.5 32.1) scale(1.02 1.0)" font-family="Liberation Sans" font-weight="bold" font-size="43" fill="#000">A</text>
<text transform="translate(4.55 400.6) scale(0.96 1.0)" font-family="Liberation Sans" font-weight="bold" font-size="43" fill="#000">B</text>
<text transform="translate(1.05 791.6) scale(0.94 1.02)" font-family="Liberation Sans" font-weight="bold" font-size="43" fill="#000">C</text>
</svg>
</body></html>
